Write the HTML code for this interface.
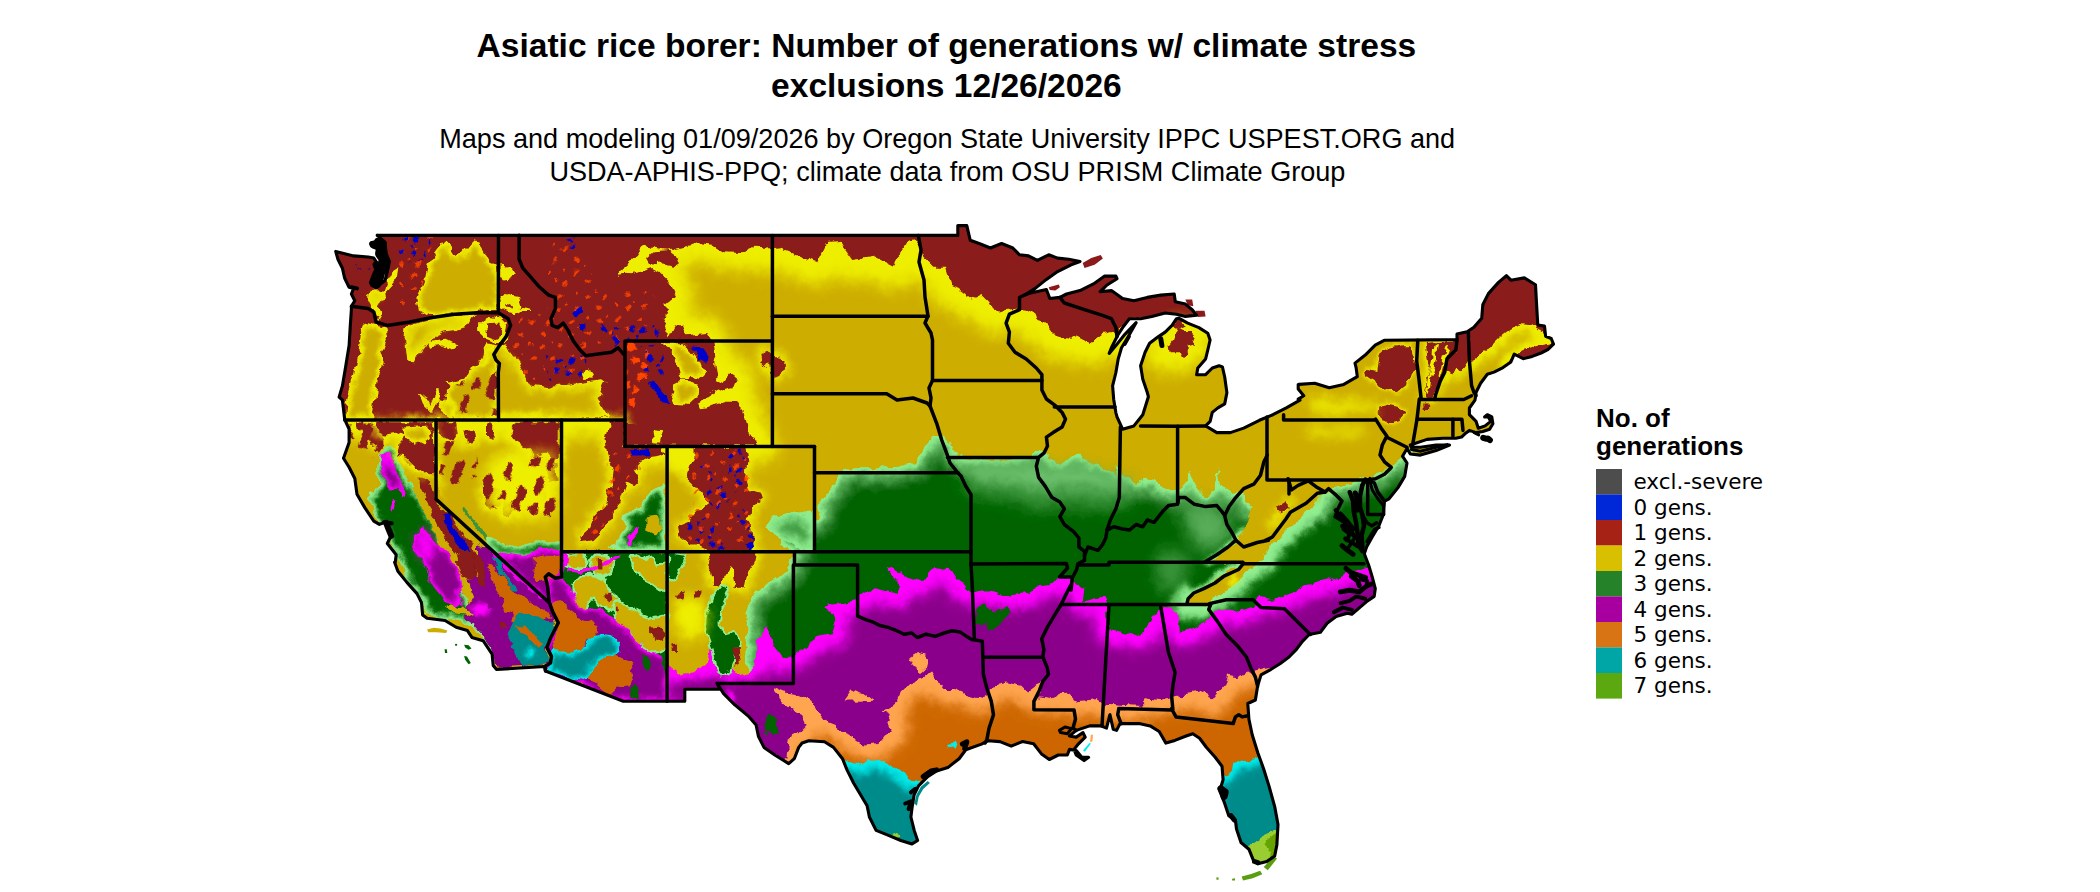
<!DOCTYPE html>
<html lang="en"><head><meta charset="utf-8"><title>Asiatic rice borer: Number of generations w/ climate stress exclusions</title>
<style>
html,body{margin:0;padding:0;background:#fff;}
body{width:2100px;height:892px;overflow:hidden;}
svg{display:block;}
.t1{font-family:"Liberation Sans",Arial,Helvetica,sans-serif;font-weight:700;font-size:33.56px;fill:#000;}
.t2{font-family:"Liberation Sans",Arial,Helvetica,sans-serif;font-size:27.09px;fill:#000;}
.lt{font-family:"Liberation Sans",Arial,Helvetica,sans-serif;font-weight:700;font-size:26px;fill:#000;}
.li{font-family:"DejaVu Sans","Liberation Sans",sans-serif;font-size:21.5px;fill:#000;}
.b{fill:none;stroke:#000;stroke-width:3.5;stroke-linejoin:round;stroke-linecap:round;}
</style></head><body>
<svg width="2100" height="892" viewBox="0 0 2100 892">
<rect width="2100" height="892" fill="#fff"/>
<defs><clipPath id="us"><polygon points="377.2,235.4 957.8,235.4 957.8,225.6 966.8,225.6 970.2,240.2 979.1,243.5 990.4,248.0 1001.6,243.5 1012.8,248.0 1019.5,254.8 1028.5,255.9 1037.4,260.4 1048.7,254.8 1057.6,258.1 1068.8,259.2 1080.0,261.5 1071.1,264.8 1057.6,271.6 1046.4,279.4 1035.2,288.4 1026.2,294.0 1019.5,297.4 1030.7,292.9 1046.4,289.5 1049.8,298.5 1059.9,297.4 1066.6,294.0 1080.0,290.6 1093.5,283.9 1104.7,276.1 1115.9,276.1 1117.0,278.7 1107.0,285.0 1100.2,291.7 1111.4,290.6 1122.6,298.5 1133.9,300.7 1147.3,297.4 1160.8,295.1 1174.2,294.0 1175.3,301.8 1185.4,304.1 1192.2,309.7 1196.6,315.3 1185.4,316.4 1176.5,314.2 1165.2,313.0 1151.8,316.4 1140.6,318.7 1129.4,318.7 1122.6,327.6 1118.2,334.3 1111.4,347.8 1109.2,353.4 1115.9,345.6 1124.9,334.3 1136.1,322.7 1128.3,336.6 1121.5,347.8 1118.2,359.0 1115.9,372.5 1112.6,385.9 1113.7,399.4 1115.9,412.8 1117.0,416.9 1122.6,429.2 1133.9,425.9 1142.8,414.7 1148.4,396.7 1147.3,392.6 1142.8,379.2 1140.6,365.7 1145.1,352.3 1149.6,343.3 1158.5,336.6 1165.2,332.1 1172.0,325.4 1176.5,318.7 1178.7,318.2 1187.7,323.1 1198.9,327.6 1207.8,333.2 1210.1,340.0 1207.8,350.0 1205.6,359.0 1197.8,368.0 1196.6,374.7 1205.6,374.7 1212.3,368.0 1219.1,365.7 1222.4,366.9 1224.7,377.0 1226.9,392.6 1224.7,403.9 1217.9,407.9 1212.3,412.4 1210.1,421.4 1205.6,425.9 1216.8,432.6 1230.3,432.6 1243.7,428.1 1259.4,420.3 1272.9,414.7 1286.3,407.9 1300.0,400.1 1298.2,399.1 1303.8,395.7 1298.2,389.0 1298.2,384.5 1299.0,384.4 1314.7,383.3 1329.2,387.8 1343.8,384.4 1357.3,376.6 1356.1,367.6 1355.0,363.1 1366.2,354.2 1375.2,345.2 1384.2,340.3 1457.0,339.6 1457.0,334.0 1467.1,331.7 1473.9,327.3 1481.7,318.3 1482.8,304.8 1488.4,293.6 1498.5,282.4 1506.4,275.7 1510.9,280.2 1524.3,277.9 1535.5,284.7 1536.6,304.8 1537.8,325.0 1544.5,326.1 1545.6,336.2 1551.2,338.5 1553.5,344.1 1547.8,349.7 1541.1,353.0 1532.2,356.4 1523.2,358.7 1514.2,354.2 1510.9,362.0 1503.0,367.6 1494.0,372.1 1487.3,374.3 1480.6,383.3 1476.1,392.3 1475.0,400.1 1469.4,408.0 1469.4,414.7 1476.1,421.4 1478.3,428.2 1485.1,425.9 1490.7,421.4 1488.4,417.0 1484.6,417.0 1487.3,414.7 1491.8,417.0 1492.9,423.7 1489.6,429.3 1482.8,431.5 1476.1,432.6 1469.4,430.4 1464.9,433.8 1461.5,437.1 1455.9,438.3 1442.8,438.3 1427.1,439.4 1410.3,445.0 1411.4,447.3 1420.4,447.3 1436.1,445.0 1449.6,445.0 1436.1,450.6 1420.4,455.1 1410.3,454.0 1407.0,448.4 1402.5,456.2 1407.0,463.0 1404.7,476.4 1398.0,487.6 1389.0,498.8 1384.5,501.1 1383.4,514.5 1378.9,525.7 1372.2,537.0 1366.6,547.0 1364.3,553.8 1368.6,565.0 1372.0,576.2 1375.3,588.6 1374.2,596.4 1367.5,600.9 1359.6,607.6 1351.8,614.3 1347.3,613.2 1336.1,616.6 1327.1,623.3 1320.4,632.3 1309.2,634.5 1302.5,641.3 1295.7,650.2 1289.0,657.0 1280.0,663.7 1271.1,669.3 1261.0,674.9 1257.6,686.1 1255.4,700.0 1247.8,703.5 1248.9,719.1 1252.2,734.8 1257.8,752.8 1263.5,768.5 1269.1,786.4 1274.7,806.6 1278.0,824.5 1276.9,844.7 1274.7,855.9 1266.8,861.5 1257.8,863.8 1253.4,860.4 1248.9,849.2 1241.0,842.5 1236.5,829.0 1235.4,820.0 1228.7,815.6 1224.2,802.1 1219.7,790.9 1223.1,779.7 1222.0,766.2 1215.2,757.3 1206.3,747.2 1199.6,738.2 1192.8,733.7 1186.1,736.0 1174.9,740.4 1165.9,743.1 1159.2,731.5 1150.2,725.9 1139.0,723.6 1125.6,723.6 1120.0,723.6 1116.6,730.4 1113.2,729.2 1109.9,714.7 1106.5,728.1 1100.9,725.9 1089.7,725.9 1076.2,730.4 1069.5,736.0 1076.2,737.1 1083.0,732.6 1085.2,737.1 1078.5,743.8 1074.0,749.4 1076.2,755.0 1084.1,760.6 1088.6,757.3 1081.8,757.3 1076.2,750.5 1069.5,749.4 1067.3,755.0 1058.3,755.0 1049.3,759.5 1041.5,753.9 1033.6,743.8 1022.4,741.6 1011.2,746.1 1000.0,741.6 988.2,740.7 981.5,744.1 965.8,749.7 959.1,758.7 947.8,767.6 936.6,771.0 927.7,776.6 918.7,785.6 914.2,794.5 912.0,808.0 910.9,817.0 914.2,830.4 917.6,840.5 912.0,843.9 900.8,840.5 887.3,834.9 876.1,830.4 869.4,817.0 867.1,805.7 860.4,794.5 853.7,783.3 847.0,769.9 842.5,758.7 833.5,747.4 824.5,741.8 808.8,740.7 802.1,743.0 798.7,747.4 794.3,758.7 788.7,763.6 775.2,755.3 764.0,747.4 758.4,736.2 756.1,725.0 748.3,716.1 734.8,704.8 723.6,693.6 716.9,683.1 720.0,689.3 684.8,689.3 684.8,701.2 667.1,701.2 623.3,701.3 545.5,671.0 544.8,666.5 496.6,669.4 493.2,665.4 492.1,654.2 483.1,640.7 471.9,637.4 467.4,630.6 456.2,627.3 445.0,620.5 427.1,618.3 422.6,614.9 421.5,602.6 417.0,593.6 406.9,582.4 397.9,571.2 394.6,562.2 395.1,563.7 396.2,554.7 387.3,543.5 391.7,534.5 385.0,522.2 379.4,524.4 373.8,521.1 364.8,507.6 357.0,494.2 354.8,478.5 349.1,467.3 343.5,458.3 349.1,442.6 349.1,429.1 344.7,419.5 342.4,400.0 339.1,397.1 342.4,385.9 345.8,365.7 349.1,345.6 350.3,325.4 351.4,309.7 351.4,306.3 354.8,300.7 351.4,294.0 353.6,288.4 349.1,287.3 344.7,278.3 342.4,268.2 337.9,259.2 335.7,251.4 353.6,255.9 368.2,257.0 373.8,258.1 378.3,264.8 373.8,273.8 370.4,282.8 376.1,287.3 385.0,280.5 387.3,271.6 389.5,261.5 386.1,253.6 385.0,242.4 377.2,235.2"/></clipPath>
<filter id="bl4" filterUnits="userSpaceOnUse" x="300" y="200" width="1300" height="692"><feGaussianBlur stdDeviation="4"/></filter>
<filter id="bl6" filterUnits="userSpaceOnUse" x="300" y="200" width="1300" height="692"><feGaussianBlur stdDeviation="6"/></filter>
<filter id="bl2" filterUnits="userSpaceOnUse" x="300" y="200" width="1300" height="692"><feGaussianBlur stdDeviation="2"/></filter>
<filter id="bl8" filterUnits="userSpaceOnUse" x="300" y="200" width="1300" height="692"><feGaussianBlur stdDeviation="8"/></filter>
<filter id="rough" filterUnits="userSpaceOnUse" x="300" y="200" width="1300" height="692"><feTurbulence type="fractalNoise" baseFrequency="0.09" numOctaves="3" seed="7" result="n"/><feDisplacementMap in="SourceGraphic" in2="n" scale="9" xChannelSelector="R" yChannelSelector="G"/></filter>
<pattern id="pOR" width="31" height="27" patternUnits="userSpaceOnUse" patternTransform="rotate(-25)"><path fill="#ff4500" fill-opacity="0.85" d="M2 3l4-1 2 2-2 2-4 0zM18 10l5-1 1 2-3 2-4-1zM7 19l3-2 3 1-1 3-4 0zM25 22l3 0 0 2-3 1zM13 1l2 0 0 2-2 0z"/></pattern>
<pattern id="pOR2" width="22" height="26" patternUnits="userSpaceOnUse" patternTransform="rotate(20)"><path fill="#ff4500" d="M1 2l9-1 5 4-4 5-8 1zM12 14l7-2 2 6-6 4-5-3zM2 16l5 1 0 5-4 1z"/></pattern>
<pattern id="pBL" width="19" height="17" patternUnits="userSpaceOnUse" patternTransform="rotate(-35)"><path fill="#0000cd" d="M2 2l4-1 2 2-1 3-4 0zM11 9l5-1 1 3-3 2-3-1zM5 12l2 0 1 2-3 1z"/></pattern>
<pattern id="pYL" width="30" height="26" patternUnits="userSpaceOnUse" patternTransform="rotate(-30)"><path fill="#eeee00" d="M2 2l8-1 4 3-3 4-8 1zM16 12l8-1 3 4-6 3-6-2zM6 18l4-1 2 4-5 2z"/></pattern>
<pattern id="pRD" width="47" height="33" patternUnits="userSpaceOnUse" patternTransform="rotate(-68)"><path fill="#8b1a1a" d="M2 4l20-2 7 4-5 5-21 2zM27 19l14-2 4 4-6 5-13-1zM6 22l10-1 2 5-11 3z"/></pattern>
</defs>
<g clip-path="url(#us)">
<rect x="300" y="200" width="1300" height="692" fill="#cdad00"/>
<g filter="url(#rough)">
<rect x="250" y="150" width="1400" height="792" fill="#cdad00"/>
<polygon fill="#90ee90" points="745.4,719.4 747.6,672.3 745.4,652.1 747.6,629.7 745.4,614.0 749.9,598.3 761.1,587.1 774.5,580.4 785.7,571.4 794.7,553.5 780.0,545.6 780.0,516.0 793.5,514.2 809.1,509.7 813.6,517.5 817.0,518.7 821.5,498.5 831.6,487.3 837.2,474.9 847.3,468.2 892.1,468.2 914.5,462.6 923.5,449.1 934.7,436.8 943.7,435.7 952.6,446.9 957.1,455.9 966.1,459.2 1004.2,460.4 1026.6,458.1 1035.6,451.4 1044.6,450.3 1049.1,460.4 1060.3,464.8 1071.5,455.9 1078.2,453.6 1087.2,462.6 1105.1,467.1 1116.3,476.1 1113.5,467.3 1124.7,476.2 1138.1,483.0 1147.1,476.2 1156.1,483.0 1167.3,489.7 1177.4,491.9 1185.2,485.2 1189.7,471.7 1194.2,483.0 1205.4,496.4 1214.3,487.4 1216.6,469.5 1221.1,485.2 1230.0,494.2 1239.0,489.7 1243.5,496.4 1252.5,507.6 1279.4,512.1 1315.2,505.4 1326.5,494.2 1333.2,487.4 1346.6,483.0 1369.1,477.4 1382.5,471.7 1391.5,465.0 1400.4,458.3 1407.2,449.3 1411.7,448.2 1418.4,467.3 1481.2,467.3 1500.0,892.0 745.0,892.0"/>
<g filter="url(#bl2)">
<polygon fill="#6cc06c" points="750.4,719.5 750.0,887.0 1494.8,887.0 1476.4,472.3 1418.4,472.3 1417.9,472.2 1417.4,472.2 1417.0,472.1 1416.5,471.9 1416.1,471.7 1415.7,471.5 1415.3,471.2 1414.9,470.9 1414.6,470.6 1414.3,470.2 1414.1,469.8 1413.8,469.4 1413.7,468.9 1408.9,455.4 1404.4,461.3 1404.1,461.7 1403.8,462.0 1403.4,462.3 1385.5,475.7 1385.2,476.0 1384.8,476.2 1384.4,476.4 1371.0,482.0 1370.6,482.1 1370.3,482.2 1348.0,487.8 1335.9,491.8 1330.0,497.7 1318.8,508.9 1318.4,509.3 1318.0,509.5 1317.6,509.8 1317.1,510.0 1316.7,510.2 1316.2,510.3 1280.3,517.0 1279.9,517.1 1279.4,517.1 1279.0,517.1 1278.6,517.0 1251.6,512.6 1251.1,512.4 1250.6,512.3 1250.2,512.1 1249.7,511.8 1249.3,511.5 1248.9,511.1 1248.6,510.7 1239.6,499.5 1239.3,499.2 1237.3,496.1 1232.3,498.6 1231.8,498.8 1231.4,499.0 1230.9,499.1 1230.4,499.2 1230.0,499.2 1229.5,499.1 1229.0,499.1 1228.5,498.9 1228.1,498.8 1227.7,498.6 1227.2,498.3 1226.9,498.0 1226.5,497.7 1218.7,489.9 1218.5,490.3 1218.2,490.6 1217.9,491.0 1208.9,499.9 1208.6,500.3 1208.2,500.6 1207.7,500.8 1207.3,501.0 1206.8,501.2 1206.4,501.3 1205.9,501.4 1205.4,501.4 1204.9,501.4 1204.4,501.3 1204.0,501.2 1203.5,501.0 1203.0,500.8 1202.6,500.6 1202.2,500.3 1201.9,500.0 1201.5,499.6 1190.3,486.2 1190.2,486.0 1189.9,486.8 1189.8,487.2 1189.6,487.6 1189.4,488.0 1189.1,488.4 1188.8,488.7 1188.5,489.0 1180.6,495.7 1180.2,496.0 1179.8,496.3 1179.3,496.5 1178.8,496.7 1178.3,496.8 1177.8,496.9 1177.3,496.9 1176.8,496.9 1176.3,496.8 1166.2,494.6 1165.7,494.4 1165.2,494.2 1164.7,494.0 1153.5,487.2 1153.1,487.0 1147.1,482.5 1141.1,487.0 1140.7,487.2 1140.3,487.5 1139.8,487.7 1139.3,487.8 1138.8,487.9 1138.3,488.0 1137.8,488.0 1137.3,487.9 1136.8,487.8 1136.3,487.6 1135.9,487.4 1122.4,480.7 1122.0,480.4 1121.5,480.1 1120.3,479.1 1120.2,479.2 1119.9,479.5 1119.6,479.9 1119.2,480.2 1118.8,480.4 1118.3,480.6 1117.8,480.8 1117.4,480.9 1116.9,481.0 1116.4,481.1 1115.9,481.0 1115.4,481.0 1114.9,480.9 1114.5,480.7 1114.0,480.5 1113.6,480.2 1113.2,480.0 1102.8,471.7 1086.0,467.5 1085.5,467.3 1085.1,467.2 1084.7,467.0 1084.3,466.7 1084.0,466.4 1083.6,466.1 1076.9,459.4 1073.9,460.3 1063.4,468.7 1063.0,469.0 1062.6,469.3 1062.2,469.5 1061.7,469.6 1061.2,469.7 1060.8,469.8 1060.3,469.8 1059.8,469.8 1059.3,469.8 1058.9,469.6 1058.4,469.5 1047.2,465.0 1046.8,464.8 1046.3,464.6 1046.0,464.3 1045.6,464.0 1045.3,463.6 1045.0,463.2 1044.7,462.8 1044.5,462.4 1041.5,455.7 1037.5,456.2 1029.6,462.1 1029.3,462.4 1028.9,462.6 1028.5,462.8 1028.0,462.9 1027.6,463.0 1027.1,463.1 1004.7,465.3 1004.1,465.4 966.0,464.2 965.4,464.2 964.9,464.1 964.3,463.9 955.4,460.6 954.9,460.4 954.5,460.1 954.1,459.9 953.8,459.6 953.5,459.3 953.2,458.9 952.9,458.5 952.7,458.1 948.4,449.6 941.5,441.0 937.2,441.5 927.4,452.2 918.7,465.4 918.4,465.7 918.1,466.1 917.8,466.4 917.4,466.7 917.0,466.9 916.6,467.1 916.2,467.3 915.7,467.5 893.3,473.1 892.7,473.2 892.1,473.2 848.8,473.2 841.1,478.3 836.1,489.3 835.9,489.8 835.6,490.2 835.3,490.6 826.1,500.8 821.9,519.7 821.7,520.2 821.6,520.7 821.3,521.1 821.1,521.5 820.8,521.9 820.4,522.3 820.1,522.6 819.7,522.9 819.2,523.1 818.8,523.3 818.3,523.5 817.8,523.6 817.4,523.6 816.9,523.7 816.4,523.6 815.9,523.5 815.4,523.4 812.1,522.3 811.6,522.1 811.1,521.8 810.7,521.6 810.3,521.2 809.9,520.9 809.6,520.5 809.3,520.0 806.8,515.6 794.8,519.0 794.1,519.1 785.0,520.3 785.0,542.6 797.1,549.0 797.5,549.3 797.9,549.6 798.2,549.9 798.6,550.3 798.8,550.6 799.1,551.1 799.3,551.5 799.5,551.9 799.6,552.4 799.7,552.9 799.7,553.4 799.7,553.8 799.6,554.3 799.5,554.8 799.4,555.2 799.2,555.7 790.2,573.6 789.9,574.1 789.6,574.5 789.3,574.9 788.9,575.3 777.7,584.3 777.2,584.6 776.8,584.8 764.0,591.2 754.3,600.9 750.5,614.3 752.6,629.0 752.6,629.6 752.6,630.2 750.4,652.1 752.6,671.7 752.6,672.1 752.6,672.5 750.4,719.5"/>
</g>
<g filter="url(#bl4)">
<polygon fill="#3a943a" points="754.4,719.6 754.0,883.0 1490.6,883.0 1472.6,476.3 1418.4,476.3 1417.5,476.2 1416.7,476.1 1415.9,475.9 1415.1,475.6 1414.3,475.3 1413.5,474.8 1412.8,474.4 1412.2,473.8 1411.6,473.2 1411.1,472.5 1410.6,471.8 1410.2,471.0 1409.9,470.3 1407.6,463.8 1407.1,464.4 1406.5,465.0 1405.8,465.5 1387.9,478.9 1387.3,479.4 1386.6,479.7 1386.0,480.1 1372.5,485.7 1371.9,485.9 1371.2,486.1 1349.2,491.6 1338.0,495.3 1332.8,500.5 1321.6,511.7 1320.9,512.3 1320.2,512.9 1319.4,513.3 1318.6,513.7 1317.8,514.0 1316.9,514.2 1281.0,521.0 1280.3,521.1 1279.5,521.1 1278.7,521.1 1277.9,521.0 1251.0,516.5 1250.1,516.3 1249.2,516.0 1248.3,515.6 1247.5,515.1 1246.8,514.6 1246.1,513.9 1245.4,513.2 1236.5,502.0 1236.0,501.4 1235.9,501.3 1234.1,502.2 1233.3,502.6 1232.5,502.8 1231.6,503.0 1230.8,503.1 1229.9,503.2 1229.0,503.1 1228.2,503.0 1227.3,502.8 1226.5,502.5 1225.8,502.1 1225.0,501.6 1224.3,501.1 1223.7,500.5 1218.8,495.7 1211.7,502.8 1211.1,503.4 1210.4,503.9 1209.6,504.3 1208.8,504.7 1208.0,505.0 1207.2,505.2 1206.3,505.4 1205.4,505.4 1204.5,505.4 1203.7,505.2 1202.8,505.0 1202.0,504.7 1201.2,504.4 1200.4,503.9 1199.7,503.4 1199.1,502.8 1198.5,502.2 1190.5,492.6 1183.2,498.8 1182.5,499.3 1181.7,499.8 1180.9,500.2 1180.0,500.5 1179.1,500.8 1178.2,500.9 1177.2,500.9 1176.3,500.9 1175.4,500.7 1165.3,498.5 1164.4,498.2 1163.5,497.9 1162.6,497.4 1151.4,490.7 1150.7,490.2 1147.1,487.5 1143.5,490.2 1142.8,490.7 1142.0,491.1 1141.1,491.4 1140.3,491.7 1139.4,491.9 1138.5,492.0 1137.6,491.9 1136.7,491.8 1135.8,491.7 1134.9,491.4 1134.1,491.0 1120.6,484.3 1120.3,484.1 1119.9,484.3 1119.1,484.6 1118.2,484.9 1117.3,485.0 1116.5,485.1 1115.6,485.0 1114.7,484.9 1113.8,484.7 1113.0,484.4 1112.2,484.0 1111.4,483.6 1110.7,483.1 1101.0,475.3 1085.0,471.3 1084.2,471.1 1083.5,470.8 1082.7,470.4 1082.1,470.0 1081.4,469.5 1080.8,469.0 1075.8,463.9 1065.9,471.9 1065.2,472.4 1064.4,472.8 1063.7,473.2 1062.9,473.5 1062.0,473.7 1061.2,473.8 1060.3,473.8 1059.4,473.8 1058.6,473.7 1057.7,473.5 1056.9,473.2 1045.7,468.7 1044.9,468.4 1044.2,467.9 1043.5,467.4 1042.8,466.8 1042.2,466.2 1041.7,465.5 1041.2,464.8 1040.8,464.0 1039.1,460.0 1032.0,465.3 1031.4,465.8 1030.7,466.2 1029.9,466.5 1029.1,466.8 1028.3,467.0 1027.5,467.1 1005.1,469.3 1004.0,469.4 965.8,468.2 964.8,468.2 963.9,468.0 962.9,467.7 954.0,464.3 953.2,464.0 952.5,463.6 951.8,463.1 951.1,462.6 950.5,462.0 950.0,461.3 949.5,460.6 949.1,459.9 945.0,451.8 939.8,445.3 939.1,445.3 930.6,454.7 922.0,467.6 921.5,468.3 921.0,468.9 920.4,469.4 919.7,470.0 919.0,470.4 918.3,470.8 917.5,471.1 916.7,471.3 894.3,476.9 893.2,477.1 892.1,477.2 850.0,477.2 844.3,481.0 839.8,491.0 839.3,491.8 838.8,492.6 838.3,493.3 829.8,502.7 825.8,520.6 825.5,521.5 825.2,522.3 824.8,523.1 824.4,523.8 823.8,524.5 823.2,525.2 822.5,525.7 821.8,526.3 821.0,526.7 820.2,527.1 819.4,527.3 818.5,527.5 817.6,527.6 816.8,527.7 815.9,527.6 815.0,527.4 814.1,527.2 810.8,526.1 809.9,525.7 809.1,525.3 808.3,524.8 807.6,524.2 806.9,523.5 806.3,522.8 805.8,522.0 804.8,520.3 795.9,522.8 794.6,523.1 789.0,523.8 789.0,540.2 799.0,545.5 799.7,546.0 800.4,546.5 801.0,547.1 801.6,547.7 802.2,548.4 802.6,549.1 803.0,549.9 803.3,550.7 803.5,551.6 803.6,552.4 803.7,553.3 803.7,554.2 803.6,555.0 803.4,555.9 803.1,556.7 802.8,557.5 793.8,575.4 793.3,576.3 792.7,577.0 792.1,577.8 791.4,578.4 780.2,587.4 779.4,587.9 778.6,588.4 766.4,594.5 757.9,603.0 754.6,614.6 756.5,628.4 756.6,629.5 756.6,630.6 754.4,652.1 756.6,671.3 756.6,672.0 756.6,672.7 754.4,719.6"/>
<polygon fill="#006400" points="761.4,719.8 761.0,876.0 1483.3,876.0 1465.9,483.3 1418.4,483.3 1416.9,483.2 1415.4,483.0 1413.9,482.6 1412.5,482.1 1411.1,481.5 1409.8,480.7 1408.5,479.9 1407.4,478.9 1406.3,477.8 1405.4,476.6 1404.6,475.3 1404.5,475.2 1392.1,484.5 1391.0,485.3 1389.9,486.0 1388.7,486.5 1375.2,492.1 1374.1,492.5 1372.9,492.9 1351.1,498.3 1341.8,501.4 1337.8,505.5 1326.6,516.7 1325.4,517.8 1324.1,518.7 1322.7,519.5 1321.3,520.2 1319.8,520.7 1318.2,521.1 1282.3,527.8 1280.9,528.0 1279.5,528.1 1278.1,528.1 1276.7,527.9 1249.8,523.4 1248.2,523.0 1246.6,522.5 1245.1,521.8 1243.7,521.0 1242.3,520.0 1241.1,518.9 1240.0,517.6 1233.7,509.7 1232.8,509.9 1231.3,510.1 1229.8,510.2 1228.2,510.1 1226.7,509.8 1225.2,509.4 1223.8,508.9 1222.4,508.2 1221.1,507.4 1219.9,506.5 1218.8,505.6 1216.7,507.7 1215.5,508.8 1214.3,509.7 1212.9,510.5 1211.5,511.2 1210.1,511.7 1208.5,512.1 1207.0,512.3 1205.4,512.4 1203.9,512.3 1202.3,512.1 1200.8,511.7 1199.3,511.2 1197.9,510.6 1196.6,509.8 1195.3,508.8 1194.1,507.8 1193.1,506.7 1189.6,502.5 1187.8,504.1 1186.5,505.1 1185.1,505.9 1183.6,506.7 1182.0,507.2 1180.4,507.6 1178.8,507.9 1177.2,507.9 1175.5,507.8 1173.9,507.5 1163.8,505.3 1162.1,504.8 1160.5,504.2 1159.0,503.4 1147.8,496.7 1147.1,496.2 1146.4,496.7 1145.0,497.4 1143.5,498.0 1141.9,498.5 1140.4,498.8 1138.8,498.9 1137.1,498.9 1135.5,498.8 1134.0,498.4 1132.4,497.9 1131.0,497.3 1119.8,491.7 1119.7,491.7 1118.1,492.0 1116.6,492.1 1115.0,492.0 1113.4,491.8 1111.9,491.4 1110.4,490.9 1109.0,490.3 1107.6,489.5 1106.3,488.5 1097.8,481.8 1083.3,478.1 1081.9,477.7 1080.6,477.2 1079.3,476.5 1078.1,475.8 1076.9,474.9 1075.9,473.9 1075.3,473.3 1070.3,477.3 1069.0,478.2 1067.7,479.0 1066.3,479.7 1064.9,480.2 1063.4,480.5 1061.9,480.8 1060.3,480.8 1058.8,480.8 1057.3,480.6 1055.8,480.2 1054.3,479.7 1043.1,475.2 1041.7,474.6 1040.4,473.8 1039.1,472.9 1038.0,471.9 1036.9,470.8 1036.7,470.5 1036.2,470.9 1035.0,471.7 1033.8,472.4 1032.4,473.0 1031.1,473.5 1029.7,473.8 1028.2,474.0 1005.8,476.3 1003.7,476.4 965.6,475.2 963.9,475.1 962.2,474.7 960.5,474.2 951.5,470.9 950.1,470.3 948.8,469.5 947.6,468.7 946.4,467.8 945.4,466.7 944.4,465.6 943.6,464.3 942.8,463.0 939.2,455.7 936.1,459.0 927.8,471.5 927.0,472.7 926.0,473.8 924.9,474.8 923.7,475.7 922.5,476.5 921.2,477.1 919.8,477.7 918.4,478.1 896.0,483.7 894.1,484.1 892.1,484.2 852.1,484.2 849.9,485.7 846.1,493.9 845.4,495.3 844.5,496.7 843.5,498.0 836.2,506.1 832.6,522.1 832.2,523.6 831.6,525.1 830.9,526.5 830.1,527.9 829.1,529.1 828.0,530.2 826.8,531.3 825.6,532.2 824.2,532.9 822.7,533.6 821.2,534.1 819.7,534.4 818.1,534.6 816.6,534.6 815.0,534.5 813.5,534.3 811.9,533.8 808.6,532.7 807.0,532.1 805.5,531.3 804.1,530.4 802.9,529.4 801.9,528.4 797.8,529.6 796.0,529.9 796.0,536.0 802.3,539.4 803.6,540.1 804.8,541.1 806.0,542.1 807.0,543.2 807.9,544.5 808.7,545.8 809.4,547.2 810.0,548.6 810.4,550.1 810.6,551.6 810.7,553.2 810.7,554.7 810.5,556.2 810.1,557.7 809.6,559.2 809.0,560.6 800.1,578.5 799.2,580.0 798.2,581.4 797.0,582.7 795.7,583.9 784.5,592.9 783.2,593.8 781.7,594.7 770.6,600.2 764.1,606.7 761.7,615.1 763.5,627.4 763.6,629.3 763.5,631.3 761.5,652.0 763.5,670.5 763.6,671.8 763.6,673.0 761.4,719.8"/>
</g>
<g filter="url(#bl8)">
<polygon fill="#3a943a" points="959.4,476.1 981.8,471.6 1015.4,471.6 1037.8,469.3 1060.3,476.1 1082.7,471.6 1105.1,478.3 1130.0,485.0 1130.0,505.2 1105.1,509.7 1082.7,507.4 1060.3,505.2 1037.8,509.7 1015.4,500.7 993.0,498.5 970.6,494.0"/>
</g>
<g filter="url(#bl6)">
<polygon fill="#6cc06c" points="963.9,468.2 981.8,464.8 1015.4,466.0 1033.4,462.6 1049.1,468.2 1067.0,467.1 1080.4,463.7 1098.4,470.4 1116.3,478.3 1130.0,480.5 1130.0,491.7 1105.1,489.5 1082.7,487.3 1060.3,487.3 1037.8,489.5 1015.4,482.8 993.0,481.7 970.6,479.4"/>
</g>
<g filter="url(#bl8)">
<polygon fill="#58ad58" points="1178.5,507.6 1189.7,503.1 1205.4,507.6 1221.1,507.6 1231.2,518.8 1232.3,534.5 1223.3,543.5 1212.1,550.2 1200.9,550.2 1191.9,539.0 1187.4,525.6 1180.7,518.8"/>
<polygon fill="#3a943a" points="1156.1,557.0 1167.3,548.0 1189.7,557.0 1185.2,579.4 1171.7,592.8 1158.3,588.3"/>
</g>
<g filter="url(#bl4)">
<polyline fill="none" stroke="#90ee90" stroke-width="26" stroke-linejoin="round" stroke-linecap="round" points="1188.1,598.7 1185.9,605.4 1199.3,605.8 1210.5,600.9 1219.5,595.3 1228.5,588.6 1236.8,579.4 1248.0,570.4 1261.4,561.4 1268.2,550.2 1277.1,539.0 1288.3,527.8 1299.6,518.8 1313.0,505.4"/>
</g>
<g filter="url(#bl2)">
<polyline fill="none" stroke="#90ee90" stroke-width="8" stroke-linejoin="round" stroke-linecap="round" points="1243.5,532.3 1234.5,543.5 1225.6,550.2 1214.3,559.2 1207.6,561.9"/>
<polyline fill="none" stroke="#90ee90" stroke-width="8" stroke-linejoin="round" stroke-linecap="round" points="1243.5,563.2 1234.5,568.2 1221.1,577.1 1207.6,586.1 1194.2,595.1"/>
</g>
<polygon fill="#cdad00" points="1257.0,485.2 1252.5,507.6 1248.0,521.1 1243.5,532.3 1234.5,543.5 1225.6,550.2 1214.3,559.2 1207.6,561.9 1243.5,563.2 1234.5,568.2 1221.1,577.1 1207.6,586.1 1194.2,595.1 1188.1,598.7 1185.9,605.4 1199.3,605.8 1210.5,600.9 1219.5,595.3 1228.5,588.6 1236.8,579.4 1248.0,570.4 1261.4,561.4 1268.2,550.2 1277.1,539.0 1288.3,527.8 1299.6,518.8 1313.0,505.4 1324.2,485.2"/>
<g filter="url(#bl4)">
<polygon fill="#eeee00" points="1265.9,525.6 1279.4,507.6 1290.6,496.4 1295.1,500.9 1283.9,516.6 1272.6,530.0"/>
</g>
<polygon fill="#8b1a1a" points="1276.0,507.6 1286.1,500.9 1290.6,505.4 1281.6,513.2"/>
<g filter="url(#bl2)">
<polygon fill="#eeee00" points="1224.0,583.0 1235.2,574.0 1239.7,577.4 1228.5,587.4"/>
</g>
<polygon fill="#ff00ff" points="667.0,892.0 667.0,680.0 669.1,665.6 680.4,674.5 696.1,672.3 707.3,661.1 711.7,638.7 716.2,665.6 725.2,643.1 731.9,665.6 738.7,674.5 747.6,672.3 755.5,665.6 756.6,640.9 767.8,625.2 774.5,645.4 783.5,658.8 794.7,654.3 801.4,649.9 810.4,643.1 819.4,636.4 832.8,634.2 835.1,625.2 830.6,611.7 823.9,607.3 837.3,602.8 855.2,599.4 864.2,593.8 875.4,588.2 886.6,591.6 897.8,593.8 900.1,584.8 886.6,566.9 893.4,569.1 909.1,578.1 920.3,582.6 929.2,571.4 936.0,568.0 949.4,570.3 958.4,580.4 965.1,589.3 974.1,591.6 990.0,591.6 1007.0,596.1 1029.4,592.7 1042.8,584.8 1056.3,580.4 1072.0,575.9 1076.5,584.8 1085.4,588.2 1083.2,601.7 1105.6,596.1 1107.8,605.0 1109.1,630.5 1120.4,632.8 1136.1,635.0 1147.3,630.5 1151.7,619.3 1160.7,608.1 1169.7,605.9 1178.7,614.8 1180.9,632.8 1187.6,630.5 1198.8,626.1 1210.0,619.3 1214.5,613.7 1225.7,608.1 1237.0,611.5 1250.4,608.1 1254.9,601.4 1259.4,596.9 1270.6,599.1 1281.8,596.9 1293.0,592.4 1304.2,585.7 1315.4,583.5 1326.6,580.1 1337.8,576.7 1349.1,572.2 1360.3,570.0 1371.5,565.5 1461.2,565.5 1450.0,892.0"/>
<g filter="url(#bl6)">
<polygon fill="#8b008b" points="681.0,688.5 681.0,878.0 1436.5,878.0 1446.7,579.5 1374.2,579.5 1365.5,583.0 1364.3,583.4 1363.0,583.7 1353.1,585.7 1343.0,589.7 1341.9,590.1 1330.7,593.5 1319.4,596.9 1318.2,597.2 1309.3,598.9 1300.2,604.4 1299.2,605.0 1298.2,605.4 1287.0,609.9 1285.8,610.3 1284.5,610.6 1273.3,612.9 1272.0,613.1 1270.6,613.1 1269.2,613.1 1267.8,612.9 1264.5,612.2 1262.1,615.9 1261.3,616.9 1260.4,617.9 1259.5,618.8 1258.5,619.6 1257.4,620.3 1256.2,620.8 1255.0,621.3 1253.8,621.7 1240.3,625.1 1238.9,625.3 1237.4,625.5 1235.9,625.4 1234.4,625.2 1232.9,624.9 1227.0,623.1 1223.5,624.9 1221.0,628.1 1220.2,629.0 1219.3,629.9 1218.3,630.6 1217.2,631.3 1206.0,638.1 1205.1,638.6 1204.0,639.1 1192.8,643.5 1192.1,643.8 1185.3,646.1 1184.0,646.4 1182.6,646.7 1181.3,646.8 1179.9,646.7 1178.5,646.6 1177.2,646.3 1175.9,645.9 1174.6,645.3 1173.4,644.6 1172.3,643.8 1171.3,642.9 1170.3,641.9 1169.5,640.9 1168.7,639.7 1168.1,638.5 1167.6,637.2 1167.2,635.9 1167.0,634.5 1165.7,624.3 1164.0,626.5 1160.3,635.7 1159.7,637.0 1159.0,638.2 1158.1,639.4 1157.2,640.4 1156.1,641.4 1155.0,642.2 1153.8,642.9 1152.5,643.5 1141.3,648.0 1139.9,648.5 1138.4,648.8 1137.0,649.0 1135.5,649.0 1134.1,648.9 1118.4,646.6 1117.6,646.5 1106.4,644.3 1105.0,643.9 1103.7,643.4 1102.4,642.8 1101.2,642.1 1100.1,641.2 1099.0,640.2 1098.1,639.1 1097.3,638.0 1096.6,636.7 1096.0,635.4 1095.6,634.1 1095.3,632.7 1095.2,631.3 1094.3,613.3 1086.6,615.2 1085.2,615.5 1083.8,615.6 1082.5,615.6 1081.1,615.5 1079.7,615.2 1078.4,614.8 1077.1,614.3 1075.9,613.6 1074.8,612.8 1073.7,611.9 1072.7,611.0 1071.8,609.9 1071.1,608.7 1070.5,607.5 1069.9,606.2 1069.6,604.9 1069.3,603.5 1069.2,602.1 1069.2,600.7 1069.4,599.4 1069.7,597.1 1069.2,596.8 1068.1,596.1 1067.1,595.2 1066.2,594.3 1065.3,593.3 1064.7,592.5 1060.4,593.7 1048.6,597.7 1036.4,604.8 1035.3,605.4 1034.0,605.9 1032.8,606.3 1031.4,606.5 1009.0,609.9 1007.6,610.0 1006.2,610.0 1004.8,609.9 1003.4,609.6 988.2,605.6 974.1,605.6 972.4,605.5 970.7,605.2 961.7,602.9 960.4,602.5 959.1,602.0 957.9,601.4 956.8,600.6 955.8,599.7 954.8,598.8 953.9,597.7 947.5,589.2 942.2,583.3 938.2,582.6 931.2,591.3 930.3,592.4 929.3,593.3 928.2,594.1 927.0,594.9 925.8,595.5 924.5,595.9 923.2,596.3 921.8,596.5 920.4,596.6 919.1,596.5 917.7,596.4 916.4,596.0 915.1,595.6 912.1,594.4 911.4,597.2 911.0,598.5 910.5,599.7 909.9,600.9 909.2,602.0 908.4,603.1 907.4,604.0 906.4,604.9 905.3,605.6 904.2,606.3 903.0,606.8 901.7,607.3 900.4,607.6 899.1,607.8 897.7,607.8 896.4,607.7 895.1,607.5 883.9,605.3 882.6,605.0 876.7,603.2 871.1,606.0 862.7,611.3 861.5,611.9 860.3,612.5 859.1,612.9 857.8,613.2 846.5,615.3 848.3,620.8 848.7,622.0 848.9,623.3 849.1,624.7 849.0,626.0 848.9,627.3 848.6,628.6 846.4,637.6 846.0,638.9 845.5,640.1 844.9,641.3 844.1,642.4 843.3,643.5 842.3,644.5 841.3,645.3 840.2,646.1 839.0,646.7 837.7,647.3 836.4,647.7 835.1,648.0 825.0,649.7 818.8,654.3 809.8,661.1 809.2,661.5 802.5,666.0 801.2,666.7 799.9,667.3 788.7,671.8 787.4,672.3 786.1,672.6 784.7,672.8 783.4,672.8 782.0,672.8 780.7,672.5 779.3,672.2 778.1,671.7 776.8,671.1 775.7,670.4 774.6,669.6 773.6,668.7 772.7,667.7 771.8,666.6 769.6,663.2 769.5,666.2 769.3,667.6 769.0,669.0 768.6,670.4 768.1,671.7 767.4,672.9 766.5,674.1 765.6,675.2 764.6,676.2 756.7,682.9 755.7,683.7 754.6,684.4 753.5,685.0 752.3,685.5 751.0,685.9 742.1,688.1 740.7,688.4 739.3,688.5 738.0,688.5 736.6,688.4 735.3,688.1 734.0,687.7 732.7,687.2 731.5,686.6 730.4,685.8 729.3,684.9 728.3,684.0 727.5,682.9 723.4,677.6 722.8,677.9 721.6,678.5 720.3,679.0 718.9,679.3 717.5,679.5 716.1,679.6 714.7,679.5 713.3,679.3 712.0,678.9 710.7,678.4 710.0,678.1 706.0,682.2 705.0,683.1 704.0,683.8 702.9,684.5 701.7,685.1 700.5,685.6 699.3,685.9 698.0,686.1 682.3,688.4 681.0,688.5"/>
</g>
<polygon fill="#006400" points="975.6,607.3 984.5,605.0 993.5,611.7 1007.0,607.3 1011.4,614.0 1002.5,620.7 995.7,629.7 989.0,629.7 984.5,623.0 975.6,625.2"/>
<polygon fill="#006400" points="765.6,717.1 770.0,712.6 774.5,717.1 776.8,726.1 779.0,732.8 772.3,735.1 765.6,732.8"/>
<polygon fill="#ffa54f" points="700.0,892.0 775.2,755.3 786.4,758.7 788.7,737.4 797.6,734.0 806.6,725.0 802.1,716.1 788.7,709.3 779.7,700.4 774.1,686.9 784.2,691.4 797.6,693.6 811.1,700.4 817.8,711.6 824.5,720.5 835.7,725.0 844.7,731.7 855.9,739.6 867.1,745.2 878.3,744.1 885.1,736.2 892.9,730.6 887.3,722.8 891.8,714.9 882.8,710.4 891.8,704.8 896.3,700.4 900.8,691.4 909.7,682.4 923.2,677.9 931.0,671.2 936.6,680.2 943.4,689.1 954.6,689.1 965.8,693.6 981.5,698.1 988.2,693.6 993.5,685.7 1007.0,682.4 1020.4,685.7 1027.1,692.5 1036.1,685.7 1042.8,683.5 1036.1,697.0 1051.8,699.2 1065.2,692.5 1074.2,701.4 1096.6,699.2 1103.4,703.7 1119.1,704.8 1139.2,705.9 1146.0,698.1 1159.4,700.3 1170.6,697.0 1186.3,694.7 1200.0,692.5 1205.6,690.0 1212.3,701.2 1219.0,692.2 1225.7,684.3 1228.0,675.4 1237.0,677.6 1248.2,673.1 1257.1,670.9 1270.6,667.5 1304.2,659.7 1400.0,892.0"/>
<g filter="url(#bl6)">
<polygon fill="#cd6600" points="725.4,877.0 1377.6,877.0 1295.2,677.2 1274.1,682.1 1260.8,685.4 1252.8,687.4 1242.5,691.6 1241.0,692.1 1239.5,692.4 1238.3,692.6 1238.0,693.0 1237.1,694.1 1230.7,701.6 1224.3,710.2 1223.4,711.3 1222.3,712.3 1221.2,713.3 1219.9,714.1 1218.6,714.8 1217.3,715.3 1215.9,715.7 1214.4,716.0 1213.0,716.1 1211.5,716.1 1210.1,716.0 1208.6,715.7 1207.2,715.3 1205.9,714.7 1204.6,714.0 1203.3,713.2 1202.2,712.3 1201.2,711.2 1200.2,710.1 1199.4,708.9 1198.8,707.9 1188.7,709.5 1188.4,709.6 1173.9,711.6 1163.7,714.7 1162.4,715.0 1161.0,715.2 1159.7,715.3 1158.3,715.3 1157.0,715.1 1151.8,714.3 1150.6,715.7 1149.6,716.8 1148.4,717.8 1147.2,718.7 1145.8,719.4 1144.4,720.0 1143.0,720.5 1141.5,720.8 1139.9,720.9 1138.4,720.9 1118.2,719.8 1118.0,719.8 1102.3,718.6 1100.8,718.4 1099.2,718.1 1097.8,717.6 1096.4,716.9 1095.0,716.2 1092.8,714.7 1075.7,716.4 1074.2,716.4 1072.8,716.4 1071.3,716.1 1069.9,715.8 1068.5,715.3 1067.2,714.7 1065.9,713.9 1064.7,713.0 1063.6,712.0 1062.3,710.7 1058.5,712.6 1057.1,713.2 1055.7,713.7 1054.2,714.0 1052.7,714.2 1051.2,714.2 1049.7,714.0 1034.0,711.8 1032.5,711.5 1031.1,711.1 1029.7,710.5 1028.4,709.8 1027.1,709.0 1026.0,708.0 1025.3,707.4 1023.9,707.1 1022.6,706.8 1021.2,706.3 1019.9,705.6 1018.7,704.9 1017.6,704.0 1016.5,703.1 1012.7,699.3 1007.0,697.8 1002.7,698.9 1000.7,702.0 999.8,703.2 998.8,704.3 997.7,705.2 996.5,706.1 989.8,710.6 988.6,711.3 987.3,712.0 985.9,712.5 984.5,712.8 983.1,713.0 981.6,713.1 980.2,713.1 978.8,712.9 977.4,712.5 961.7,708.1 960.2,707.6 951.7,704.1 943.4,704.1 941.8,704.1 940.3,703.8 938.8,703.4 937.4,702.9 936.0,702.2 934.7,701.4 933.5,700.4 932.4,699.3 931.4,698.1 927.1,692.4 917.8,695.5 913.1,700.3 909.7,707.1 908.9,708.5 908.0,709.8 906.9,711.0 906.4,711.5 906.6,712.7 906.8,714.1 906.8,715.5 906.7,717.0 906.4,718.4 906.0,719.8 905.5,721.1 905.1,721.9 905.1,721.9 905.9,723.1 906.6,724.5 907.1,725.8 907.5,727.2 907.8,728.7 907.9,730.2 907.9,731.6 907.7,733.1 907.4,734.5 906.9,735.9 906.4,737.3 905.6,738.6 904.8,739.8 903.8,740.9 902.8,741.9 901.6,742.8 895.3,747.4 889.7,753.8 888.7,754.9 887.7,755.8 886.5,756.7 885.3,757.4 884.0,758.0 882.6,758.5 881.2,758.8 879.8,759.0 868.6,760.1 867.2,760.2 865.8,760.1 864.4,760.0 863.0,759.6 861.7,759.2 860.4,758.6 849.2,753.0 847.3,751.9 836.1,744.0 835.7,743.7 828.3,738.2 819.0,734.5 818.4,734.2 818.2,734.6 817.2,735.6 808.2,744.6 807.0,745.7 805.7,746.6 804.4,747.4 802.9,748.0 802.6,748.1 801.3,760.2 801.1,761.7 800.7,763.1 800.2,764.5 799.6,765.8 798.9,767.0 798.0,768.2 797.0,769.3 795.9,770.3 794.7,771.1 793.5,771.9 792.1,772.5 790.8,773.0 789.3,773.4 787.9,773.6 786.4,773.7 785.0,773.6 783.5,773.4 782.5,773.1 725.4,877.0"/>
</g>
<polygon fill="#ffa54f" points="909.1,658.8 918.0,652.1 929.2,656.6 927.0,665.6 920.3,672.3 913.5,667.8"/>
<polygon fill="#ffa54f" points="845.2,700.3 855.2,690.2 866.5,694.7 873.2,700.3 859.7,701.4"/>
<polygon fill="#ffa54f" points="844.7,701.5 851.4,691.4 864.9,693.6 873.9,700.4 860.4,701.5"/>
<polygon fill="#00eeee" points="841.3,758.7 851.4,763.1 860.4,765.4 869.4,760.9 878.3,759.8 887.3,763.1 896.3,769.9 905.2,776.6 912.0,781.1 920.9,782.2 927.7,776.6 938.9,772.1 941.1,794.5 925.4,860.0 824.5,860.0"/>
<g filter="url(#bl4)">
<polygon fill="#008b8b" points="847.5,770.2 834.0,852.0 919.1,852.0 933.0,794.0 932.0,783.5 931.8,783.5 926.1,788.3 925.4,788.8 924.7,789.3 924.0,789.6 923.2,789.9 922.4,790.1 921.6,790.2 920.8,790.2 919.9,790.1 911.0,789.0 910.3,788.9 909.5,788.7 908.8,788.4 908.2,788.1 907.5,787.7 900.8,783.2 900.4,783.0 891.5,776.3 883.4,770.2 877.4,768.0 871.7,768.7 864.0,772.5 863.2,772.9 862.5,773.1 861.7,773.3 860.9,773.4 860.1,773.4 859.3,773.3 858.5,773.1 849.5,770.9 848.8,770.7 848.2,770.4 847.5,770.2"/>
</g>
<polygon fill="#00eeee" points="947.8,746.3 954.6,741.8 959.1,743.0 956.8,747.4 950.1,747.9"/>
<polygon fill="#00eeee" points="1215.2,777.4 1226.5,774.1 1232.1,770.7 1233.2,761.7 1241.0,758.4 1248.9,761.7 1255.6,756.1 1291.5,756.1 1291.5,890.0 1213.0,890.0"/>
<g filter="url(#bl4)">
<polygon fill="#008b8b" points="1222.1,782.7 1220.1,883.0 1284.5,883.0 1284.5,763.1 1258.1,763.1 1253.4,767.1 1252.8,767.5 1252.2,767.9 1251.6,768.2 1250.9,768.4 1250.2,768.6 1249.5,768.7 1248.8,768.7 1248.1,768.7 1247.5,768.6 1246.8,768.4 1246.1,768.2 1241.0,766.0 1239.6,766.6 1239.0,771.6 1238.9,772.3 1238.7,773.0 1238.4,773.6 1238.1,774.2 1237.7,774.8 1237.3,775.4 1236.8,775.9 1236.2,776.3 1235.7,776.7 1230.1,780.1 1229.5,780.4 1229.0,780.6 1228.5,780.8 1222.1,782.7"/>
</g>
<polygon fill="#9acd32" points="1243.3,844.7 1253.4,842.5 1262.3,835.7 1274.7,830.1 1282.5,830.1 1282.5,869.4 1246.6,869.4"/>
<polygon fill="#66a300" points="1263.5,843.6 1274.7,834.6 1279.1,833.5 1279.1,857.0 1270.2,857.0"/>
<polygon fill="#9acd32" points="1230.9,823.4 1237.7,824.5 1238.8,831.3 1233.2,832.4"/>
<polygon fill="#9acd32" points="890.7,833.8 896.3,831.5 898.5,837.1 892.9,838.3"/>
<polygon fill="#eeee00" points="967.9,277.2 974.7,274.9 983.6,277.2 983.6,282.8 974.7,283.9 969.1,281.7"/>
<polygon fill="#eeee00" points="959.0,263.7 964.6,263.7 964.6,267.1 959.0,267.1"/>
<g filter="url(#bl8)">
<polygon fill="#eeee00" stroke="#eeee00" stroke-width="36" stroke-linejoin="round" points="300.0,200.0 773.3,200.0 773.3,246.7 772.7,248.0 754.7,246.7 743.3,252.3 723.3,251.3 712.0,244.7 698.7,243.3 685.0,246.7 669.3,250.3 656.0,248.0 644.7,244.7 635.7,257.0 624.7,266.0 619.0,276.0 624.7,275.0 638.0,272.7 651.3,268.0 660.3,272.7 669.3,281.7 676.0,295.0 665.0,304.0 669.3,308.3 665.0,319.7 662.7,328.7 669.3,335.3 674.0,326.3 682.7,328.7 687.3,335.3 705.3,333.0 709.7,340.0 705.3,343.3 714.3,355.7 712.0,364.7 714.3,378.0 723.3,382.3 730.0,373.3 736.7,378.0 732.0,389.3 723.3,391.3 714.3,387.0 705.3,400.3 696.3,405.0 698.7,409.3 712.0,407.0 725.3,402.7 736.7,402.7 743.3,409.3 748.0,430.0 759.0,445.3 625.0,446.0 625.0,419.0 300.0,419.0"/>
<polygon fill="#eeee00" stroke="#eeee00" stroke-width="44" stroke-linejoin="round" points="760.0,200.0 760.0,250.0 780.0,248.3 800.0,256.7 816.7,263.3 826.7,243.3 840.0,241.7 853.3,260.0 873.3,256.7 893.3,266.7 906.7,240.0 916.7,238.3 923.3,256.7 933.3,266.7 945.0,266.7 950.0,283.3 950.0,286.1 959.0,288.4 963.5,291.7 972.4,298.5 981.4,294.0 990.4,303.0 994.8,311.9 1008.3,309.7 1017.3,308.6 1026.2,309.7 1035.2,314.2 1037.4,320.9 1044.2,323.1 1050.9,329.9 1057.6,336.6 1071.1,338.8 1075.6,336.6 1084.5,341.1 1091.3,343.3 1102.5,334.3 1111.4,332.1 1117.0,336.6 1122.6,327.6 1129.4,319.8 1151.8,318.7 1174.2,316.4 1219.1,318.7 1219.1,197.6"/>
</g>
<polygon fill="#8b1a1a" points="300.0,200.0 773.3,200.0 773.3,246.7 772.7,248.0 754.7,246.7 743.3,252.3 723.3,251.3 712.0,244.7 698.7,243.3 685.0,246.7 669.3,250.3 656.0,248.0 644.7,244.7 635.7,257.0 624.7,266.0 619.0,276.0 624.7,275.0 638.0,272.7 651.3,268.0 660.3,272.7 669.3,281.7 676.0,295.0 665.0,304.0 669.3,308.3 665.0,319.7 662.7,328.7 669.3,335.3 674.0,326.3 682.7,328.7 687.3,335.3 705.3,333.0 709.7,340.0 705.3,343.3 714.3,355.7 712.0,364.7 714.3,378.0 723.3,382.3 730.0,373.3 736.7,378.0 732.0,389.3 723.3,391.3 714.3,387.0 705.3,400.3 696.3,405.0 698.7,409.3 712.0,407.0 725.3,402.7 736.7,402.7 743.3,409.3 748.0,430.0 759.0,445.3 625.0,446.0 625.0,419.0 300.0,419.0"/>
<polygon fill="#8b1a1a" points="760.0,200.0 760.0,250.0 780.0,248.3 800.0,256.7 816.7,263.3 826.7,243.3 840.0,241.7 853.3,260.0 873.3,256.7 893.3,266.7 906.7,240.0 916.7,238.3 923.3,256.7 933.3,266.7 945.0,266.7 950.0,283.3 950.0,286.1 959.0,288.4 963.5,291.7 972.4,298.5 981.4,294.0 990.4,303.0 994.8,311.9 1008.3,309.7 1017.3,308.6 1026.2,309.7 1035.2,314.2 1037.4,320.9 1044.2,323.1 1050.9,329.9 1057.6,336.6 1071.1,338.8 1075.6,336.6 1084.5,341.1 1091.3,343.3 1102.5,334.3 1111.4,332.1 1117.0,336.6 1122.6,327.6 1129.4,319.8 1151.8,318.7 1174.2,316.4 1219.1,318.7 1219.1,197.6"/>
<g filter="url(#bl8)">
<polygon fill="#eeee00" points="1151.8,336.6 1176.5,318.7 1207.8,332.1 1207.8,354.5 1196.6,368.0 1169.7,372.5 1147.3,365.7 1142.8,354.5"/>
</g>
<polygon fill="#8b1a1a" points="1174.2,327.6 1183.2,332.1 1192.2,332.1 1196.6,336.6 1194.4,343.3 1187.7,345.6 1187.7,354.5 1183.2,356.8 1180.9,352.3 1169.7,352.3 1168.6,345.6 1174.2,338.8 1176.5,332.1"/>
<polygon fill="#8b1a1a" points="1170.9,325.4 1178.7,318.7 1186.5,325.4 1178.7,329.4"/>
<polygon fill="#8b1a1a" points="687.3,342.1 714.2,342.1 716.5,355.6 714.2,364.5 716.5,378.0 705.2,387.0 691.8,387.0 700.8,373.5 698.5,360.0 689.6,351.1"/>
<polygon fill="#eeee00" points="662.6,343.2 685.1,343.2 691.8,351.1 700.8,362.3 705.2,373.5 700.8,378.0 691.8,375.7 685.1,380.2 680.6,380.2 678.3,369.0 673.9,357.8"/>
<g filter="url(#bl2)">
<polygon fill="#cdad00" points="670.8,347.2 677.0,355.4 677.2,355.7 677.4,356.0 677.6,356.3 682.1,367.5 682.2,367.9 682.3,368.2 683.9,376.2 689.6,372.4 689.9,372.2 690.3,372.0 690.7,371.9 691.1,371.8 691.5,371.7 691.9,371.7 692.4,371.8 692.8,371.9 699.5,373.6 700.6,372.5 697.3,364.3 688.7,353.6 683.2,347.2 670.8,347.2"/>
</g>
<polygon fill="#eeee00" points="672.7,384.7 680.6,380.7 691.8,381.3 698.5,384.7 697.4,395.9 687.3,404.9 676.1,403.8 670.5,393.7"/>
<g filter="url(#bl2)">
<polygon fill="#cdad00" points="676.2,387.4 674.8,393.1 678.6,400.0 686.0,400.7 693.6,394.0 694.3,387.1 690.7,385.3 681.4,384.7 676.2,387.4"/>
</g>
<g filter="url(#bl4)">
<polygon fill="#eeee00" stroke="#eeee00" stroke-width="8" stroke-linejoin="round" points="761.3,352.2 766.9,348.8 770.3,355.6 779.2,356.7 786.0,364.5 781.5,375.7 773.6,378.0 770.3,369.0 762.4,362.3"/>
</g>
<polygon fill="#8b1a1a" points="761.3,352.2 766.9,348.8 770.3,355.6 779.2,356.7 786.0,364.5 781.5,375.7 773.6,378.0 770.3,369.0 762.4,362.3"/>
<polygon fill="#8b1a1a" points="647.0,256.9 653.7,251.3 667.1,250.2 678.3,259.1 676.1,265.9 662.6,263.6 651.4,264.8"/>
<polygon fill="#8b1a1a" points="672.7,328.7 682.8,326.4 686.2,334.3 680.6,338.7 673.9,337.2"/>
<polygon fill="url(#pOR)" points="546.1,239.0 564.0,236.7 590.9,265.9 593.1,286.1 647.0,288.3 660.4,304.0 647.0,326.4 615.6,342.1 586.4,346.6 579.7,373.5 534.8,382.5 510.2,364.5 514.7,319.7 557.3,304.0 548.3,274.8"/>
<polygon fill="url(#pOR2)" points="626.8,342.1 647.0,342.1 651.4,355.6 647.0,373.5 638.0,387.0 633.5,407.1 627.2,404.9"/>
<polygon fill="url(#pBL)" points="611.1,328.7 660.4,324.2 662.6,339.9 624.5,341.0 615.6,348.8"/>
<polygon fill="url(#pBL)" points="640.2,346.6 660.4,344.3 667.1,360.0 664.9,375.7 647.0,378.0 640.2,364.5"/>
<polygon fill="#0000cd" points="649.2,380.2 655.9,382.5 667.1,395.9 669.4,403.8 662.6,402.6 653.7,391.4"/>
<polygon fill="#0000cd" points="691.8,345.5 700.8,346.6 708.6,357.8 707.5,364.5 700.8,360.0"/>
<polygon fill="#0000cd" points="573.0,311.8 580.8,306.2 582.4,310.7 575.2,316.3"/>
<polygon fill="#0000cd" points="580.8,324.2 585.3,324.2 585.3,330.9 581.5,330.9"/>
<polygon fill="#0000cd" points="599.9,324.2 605.5,325.3 606.6,329.8 601.0,328.7"/>
<polygon fill="url(#pBL)" points="557.3,235.6 577.4,235.6 577.4,250.2 566.2,247.9"/>
<polygon fill="url(#pBL)" points="546.1,355.6 584.2,355.6 584.2,378.0 546.1,378.0"/>
<polygon fill="#eeee00" points="427.6,264.8 438.8,249.1 445.6,240.2 450.0,249.1 454.5,255.9 463.5,253.6 472.5,242.4 477.0,237.9 481.4,249.1 488.2,260.4 497.1,264.8 498.3,287.3 497.1,309.7 477.0,310.8 454.5,314.2 432.1,317.5 418.7,309.7 416.4,298.5 420.9,287.3 425.4,276.1"/>
<g filter="url(#bl2)">
<polygon fill="#cdad00" points="431.4,266.5 429.3,276.8 429.2,277.2 429.1,277.5 420.6,298.9 422.2,307.1 432.9,313.4 453.9,310.2 476.4,306.9 476.7,306.8 493.3,305.9 494.2,287.3 493.3,267.4 486.4,263.9 486.0,263.8 485.7,263.5 485.4,263.3 485.2,263.0 484.9,262.7 484.7,262.4 478.0,251.2 477.9,250.9 477.7,250.6 475.5,245.1 475.5,245.1 466.6,256.1 466.4,256.4 466.1,256.7 465.8,256.9 465.5,257.1 465.2,257.3 464.8,257.4 464.5,257.5 455.5,259.8 455.1,259.8 454.8,259.9 454.4,259.9 454.0,259.8 453.6,259.8 453.3,259.7 452.9,259.5 452.6,259.4 452.3,259.2 452.0,258.9 451.7,258.7 451.4,258.4 451.2,258.1 446.7,251.4 446.5,250.9 444.9,247.8 442.1,251.5 431.4,266.5"/>
</g>
<polygon fill="#eeee00" points="409.7,325.4 432.1,318.7 454.5,315.3 474.7,314.2 468.0,325.4 454.5,329.9 441.1,332.1 432.1,336.6 425.4,345.6 418.7,354.5 414.2,363.5 407.4,359.0 405.2,341.1 406.3,327.6"/>
<g filter="url(#bl4)">
<polygon fill="#cdad00" points="411.8,330.0 411.1,330.4 410.2,341.0 412.1,356.1 412.2,356.2 414.2,352.3 414.4,351.9 414.7,351.5 428.1,333.6 428.4,333.2 428.7,332.9 429.1,332.6 429.5,332.3 429.9,332.1 438.8,327.6 439.3,327.4 439.8,327.3 440.3,327.2 453.3,325.0 464.6,321.2 465.6,319.7 455.0,320.3 433.2,323.5 411.8,330.0"/>
</g>
<polygon fill="#eeee00" points="427.6,341.1 445.6,338.8 459.0,345.6 454.5,350.0 441.1,345.6 429.9,347.8"/>
<g filter="url(#bl4)">
<polygon fill="#cdad00" points="431.6,343.6 431.9,344.3 440.5,342.6 440.8,342.6 441.1,342.6 441.4,342.6 441.7,342.6 442.0,342.7 453.7,346.6 453.9,346.4 445.0,341.9 431.6,343.6"/>
</g>
<polygon fill="#eeee00" points="368.2,294.0 376.1,289.5 385.0,289.5 391.7,271.6 397.4,268.2 395.1,282.8 385.0,294.0 378.3,305.2 382.8,314.2 378.3,320.9 373.8,309.7 368.2,298.5"/>
<g filter="url(#bl4)">
<polygon fill="#cdad00" points="372.2,296.3 372.2,297.5 374.9,303.0 380.6,293.5 377.1,293.5 372.2,296.3"/>
</g>
<polygon fill="#eeee00" points="362.6,325.4 368.2,323.1 385.0,327.6 387.3,336.6 380.5,354.5 385.0,363.5 378.3,377.0 376.1,394.9 371.6,420.0 344.7,420.0 346.9,399.4 353.6,377.0 358.1,354.5 360.4,336.6"/>
<g filter="url(#bl2)">
<polygon fill="#cdad00" points="366.1,328.3 364.3,337.2 362.1,355.0 362.0,355.3 357.6,377.7 357.5,378.1 350.8,400.2 349.1,416.0 368.2,416.0 372.1,394.3 374.3,376.5 374.4,376.0 374.5,375.6 374.7,375.2 380.6,363.5 377.0,356.3 376.8,355.9 376.7,355.5 376.6,355.1 376.5,354.7 376.5,354.3 376.6,353.9 376.7,353.5 376.8,353.1 383.1,336.4 381.7,330.9 368.5,327.3 366.1,328.3"/>
</g>
<polygon fill="#eeee00" points="485.9,343.3 499.4,345.6 506.1,343.3 512.4,355.6 519.1,364.5 530.4,384.7 548.3,387.0 566.2,384.7 584.2,382.5 602.1,380.2 605.5,382.5 597.6,398.2 604.3,409.4 610.0,418.3 463.5,420.0 468.0,399.4 465.7,377.0 477.0,365.7 483.7,354.5"/>
<g filter="url(#bl4)">
<polygon fill="#cdad00" points="489.9,349.0 488.6,355.5 488.4,356.1 488.2,356.6 488.0,357.1 481.2,368.3 480.9,368.8 480.5,369.3 471.0,378.8 473.0,398.9 473.0,399.4 473.0,399.9 472.9,400.4 469.7,414.9 601.0,413.4 600.1,412.0 600.1,411.9 593.3,400.7 593.1,400.3 592.9,399.8 592.8,399.3 592.7,398.9 592.6,398.4 592.6,397.9 592.7,397.4 592.8,396.9 592.9,396.4 593.2,395.9 598.2,385.7 584.8,387.4 566.9,389.7 548.9,391.9 548.5,391.9 548.1,391.9 547.7,391.9 529.7,389.7 529.3,389.6 528.8,389.5 528.4,389.3 528.0,389.1 527.6,388.9 527.2,388.6 526.8,388.3 526.5,387.9 526.2,387.5 526.0,387.1 514.9,367.3 508.4,358.6 508.2,358.2 508.0,357.9 503.6,349.4 501.0,350.3 500.5,350.4 500.0,350.5 499.5,350.6 499.0,350.5 498.6,350.5 489.9,349.0"/>
</g>
<polygon fill="#eeee00" points="583.0,373.5 587.5,370.1 592.0,373.5 590.9,378.4 585.3,379.1"/>
<polygon fill="#eeee00" points="501.2,297.3 510.2,295.0 519.1,297.3 521.4,306.2 514.7,313.0 505.7,311.8 500.1,306.2"/>
<polygon fill="#8b1a1a" points="505.7,300.0 513.5,299.1 516.5,305.1 511.3,308.5 505.2,306.2"/>
<polygon fill="#eeee00" points="500.1,268.1 510.2,267.0 514.7,273.7 507.9,279.3 500.8,277.1"/>
<polygon fill="#eeee00" points="418.7,392.6 425.4,397.1 429.9,406.1 436.6,390.4 441.1,394.9 432.1,410.6 423.1,403.9"/>
<polygon fill="#eeee00" points="445.6,380.3 454.5,383.7 463.5,394.9 459.0,399.4 450.0,390.4"/>
<g filter="url(#bl4)">
<polygon fill="#cdad00" points="451.2,385.6 452.6,388.7 459.0,395.1 459.5,394.7 452.7,386.2 451.2,385.6"/>
</g>
<polygon fill="#eeee00" points="499.4,296.2 506.1,295.1 515.1,298.5 519.6,307.4 528.5,309.7 530.8,311.9 521.8,311.9 515.1,309.7 510.6,305.2 501.6,303.0"/>
<g filter="url(#bl4)">
<polygon fill="#cdad00" points="503.3,298.6 503.9,300.4 511.3,302.3 511.6,302.4 511.8,302.5 512.1,302.6 512.3,302.7 512.5,302.9 512.7,303.1 515.3,305.7 512.9,300.9 505.8,298.2 503.3,298.6"/>
</g>
<polygon fill="#eeee00" points="500.5,264.8 506.1,268.2 510.6,278.3 503.9,279.4 500.5,273.8"/>
<g filter="url(#bl4)">
<polygon fill="#cdad00" points="503.5,270.1 503.5,273.0 505.4,276.1 506.3,276.0 503.7,270.3 503.5,270.1"/>
</g>
<polygon fill="#eeee00" points="584.6,371.3 590.2,369.1 592.4,374.7 587.9,378.1"/>
<polygon fill="#8b1a1a" points="474.7,374.7 485.9,377.0 487.0,390.4 477.0,388.2"/>
<g filter="url(#bl4)">
<polygon fill="#eeee00" stroke="#eeee00" stroke-width="16" stroke-linejoin="round" points="1468.3,331.7 1468.3,360.9 1476.1,358.7 1482.8,351.9 1491.8,345.2 1500.8,336.2 1509.7,329.5 1518.7,323.9 1527.7,325.0 1536.6,329.5 1544.5,334.0 1551.2,339.6 1559.1,339.6 1559.1,260.0 1468.3,260.0"/>
<polygon fill="#eeee00" stroke="#eeee00" stroke-width="16" stroke-linejoin="round" points="1512.0,358.7 1518.7,351.9 1527.7,349.7 1536.6,346.3 1547.8,344.1 1556.8,341.8 1556.8,367.6 1505.2,376.6"/>
<polygon fill="#eeee00" stroke="#eeee00" stroke-width="8" stroke-linejoin="round" points="1457.0,332.9 1468.3,331.3 1468.9,360.9 1464.9,367.6 1460.4,372.1 1455.9,367.6 1451.4,376.6 1447.0,372.1 1444.7,367.6 1447.0,358.7 1455.9,349.7"/>
<polygon fill="#eeee00" stroke="#eeee00" stroke-width="8" stroke-linejoin="round" points="1426.8,343.0 1457.0,340.3 1455.9,349.7 1447.0,358.7 1444.7,372.1 1440.2,381.1 1435.7,394.5 1433.5,399.0 1424.5,399.0 1426.8,381.1 1430.1,365.4 1427.9,354.2"/>
</g>
<g filter="url(#bl2)">
<polygon fill="#eeee00" stroke="#eeee00" stroke-width="4" stroke-linejoin="round" points="1379.7,354.2 1388.7,348.6 1402.1,345.2 1411.1,345.2 1412.2,354.2 1414.4,365.4 1411.1,376.6 1406.6,385.6 1397.6,392.3 1390.9,390.0 1384.2,387.8 1373.0,381.1 1365.1,375.5 1364.0,369.9 1370.7,370.3 1377.4,372.1 1378.6,360.9"/>
<polygon fill="#eeee00" stroke="#eeee00" stroke-width="4" stroke-linejoin="round" points="1379.7,405.7 1386.4,403.5 1397.6,405.7 1404.3,412.5 1397.6,421.4 1388.7,423.7 1381.9,419.2 1378.6,412.5"/>
</g>
<polygon fill="#8b1a1a" points="1468.3,331.7 1468.3,360.9 1476.1,358.7 1482.8,351.9 1491.8,345.2 1500.8,336.2 1509.7,329.5 1518.7,323.9 1527.7,325.0 1536.6,329.5 1544.5,334.0 1551.2,339.6 1559.1,339.6 1559.1,260.0 1468.3,260.0"/>
<polygon fill="#8b1a1a" points="1512.0,358.7 1518.7,351.9 1527.7,349.7 1536.6,346.3 1547.8,344.1 1556.8,341.8 1556.8,367.6 1505.2,376.6"/>
<polygon fill="#8b1a1a" points="1457.0,332.9 1468.3,331.3 1468.9,360.9 1464.9,367.6 1460.4,372.1 1455.9,367.6 1451.4,376.6 1447.0,372.1 1444.7,367.6 1447.0,358.7 1455.9,349.7"/>
<polygon fill="#8b1a1a" points="1426.8,343.0 1457.0,340.3 1455.9,349.7 1447.0,358.7 1444.7,372.1 1440.2,381.1 1435.7,394.5 1433.5,399.0 1424.5,399.0 1426.8,381.1 1430.1,365.4 1427.9,354.2"/>
<polygon fill="#8b1a1a" points="1379.7,354.2 1388.7,348.6 1402.1,345.2 1411.1,345.2 1412.2,354.2 1414.4,365.4 1411.1,376.6 1406.6,385.6 1397.6,392.3 1390.9,390.0 1384.2,387.8 1373.0,381.1 1365.1,375.5 1364.0,369.9 1370.7,370.3 1377.4,372.1 1378.6,360.9"/>
<polygon fill="#8b1a1a" points="1379.7,405.7 1386.4,403.5 1397.6,405.7 1404.3,412.5 1397.6,421.4 1388.7,423.7 1381.9,419.2 1378.6,412.5"/>
<polygon fill="#8b1a1a" points="1422.3,403.5 1430.1,403.5 1430.1,409.1 1422.7,409.1"/>
<polygon fill="#eeee00" points="1433.5,345.2 1438.0,345.2 1435.7,360.9 1431.3,376.6 1427.9,394.5 1425.7,394.5 1429.0,372.1 1432.4,356.4"/>
<polygon fill="#eeee00" points="1447.0,345.2 1450.3,345.2 1444.7,360.9 1440.7,376.6 1438.4,376.6 1442.5,358.7"/>
<g filter="url(#bl6)">
<polygon fill="#eeee00" points="1307.9,401.3 1321.4,396.8 1334.8,403.5 1348.3,399.0 1366.2,403.5 1377.4,401.3 1375.2,412.5 1357.3,410.2 1334.8,414.7 1312.4,410.2"/>
<polygon fill="#eeee00" points="1303.5,428.2 1316.9,424.8 1334.8,430.4 1348.3,427.0 1366.2,429.3 1361.7,434.9 1339.3,436.0 1312.4,434.9"/>
</g>
<g filter="url(#bl4)">
<polygon fill="#eeee00" stroke="#eeee00" stroke-width="7" stroke-linejoin="round" points="693.5,447.0 745.1,447.0 747.3,461.6 745.1,477.3 749.6,490.7 760.8,494.1 763.0,497.4 754.0,504.2 751.8,513.1 745.1,517.6 751.8,526.6 754.0,540.0 747.3,551.3 751.8,558.0 747.3,571.4 742.8,584.9 736.1,587.1 733.9,575.9 740.6,560.2 736.1,553.5 727.1,567.0 720.4,582.6 713.7,584.9 711.4,573.7 707.0,564.7 709.2,555.7 711.4,551.3 698.0,544.5 689.0,544.5 680.0,537.8 677.8,526.6 689.0,522.1 698.0,510.9 707.0,504.2 702.5,495.2 693.5,484.0 686.8,477.3 689.0,466.1 693.5,454.8"/>
<polygon fill="#eeee00" stroke="#eeee00" stroke-width="9" stroke-linejoin="round" points="610.5,420.1 624.0,420.1 624.0,445.9 662.1,447.0 665.5,454.8 650.9,457.1 639.7,463.8 633.0,470.5 639.7,481.7 635.2,486.2 626.2,481.7 621.7,495.2 615.0,510.9 608.3,522.1 601.6,531.1 592.6,540.0 581.4,542.3 580.3,535.6 590.4,526.6 594.8,515.4 606.1,504.2 610.5,486.2 612.8,470.5 608.3,454.8 606.1,436.9"/>
<polygon fill="#eeee00" stroke="#eeee00" stroke-width="10" stroke-linejoin="round" points="709.5,551.2 756.6,551.2 754.3,562.4 747.6,575.9 745.4,587.1 734.2,588.2 736.4,573.6 729.7,566.9 723.0,578.1 718.5,584.8 711.7,580.4 714.0,569.1 709.5,562.4"/>
<polygon fill="#eeee00" points="668.8,447.0 693.5,447.0 693.5,454.8 689.0,466.1 686.8,477.3 675.6,475.0 668.8,466.1"/>
</g>
<polygon fill="#8b1a1a" points="693.5,447.0 745.1,447.0 747.3,461.6 745.1,477.3 749.6,490.7 760.8,494.1 763.0,497.4 754.0,504.2 751.8,513.1 745.1,517.6 751.8,526.6 754.0,540.0 747.3,551.3 751.8,558.0 747.3,571.4 742.8,584.9 736.1,587.1 733.9,575.9 740.6,560.2 736.1,553.5 727.1,567.0 720.4,582.6 713.7,584.9 711.4,573.7 707.0,564.7 709.2,555.7 711.4,551.3 698.0,544.5 689.0,544.5 680.0,537.8 677.8,526.6 689.0,522.1 698.0,510.9 707.0,504.2 702.5,495.2 693.5,484.0 686.8,477.3 689.0,466.1 693.5,454.8"/>
<polygon fill="#8b1a1a" points="610.5,420.1 624.0,420.1 624.0,445.9 662.1,447.0 665.5,454.8 650.9,457.1 639.7,463.8 633.0,470.5 639.7,481.7 635.2,486.2 626.2,481.7 621.7,495.2 615.0,510.9 608.3,522.1 601.6,531.1 592.6,540.0 581.4,542.3 580.3,535.6 590.4,526.6 594.8,515.4 606.1,504.2 610.5,486.2 612.8,470.5 608.3,454.8 606.1,436.9"/>
<polygon fill="#eeee00" points="652.0,429.1 663.2,430.2 659.9,443.6 654.3,443.6"/>
<polygon fill="#90ee90" points="767.5,526.6 774.2,517.6 785.4,514.3 798.9,513.1 805.6,515.4 814.1,510.9 814.1,550.8 796.6,549.0 792.2,542.3 783.2,540.0 774.2,535.6"/>
<g filter="url(#bl4)">
<polygon fill="#3f9a3f" points="776.2,526.6 778.8,530.0 785.6,533.4 793.9,535.5 794.5,535.7 795.1,535.9 795.6,536.2 796.2,536.6 796.7,537.0 797.2,537.4 797.6,537.9 798.0,538.4 800.6,542.4 807.1,543.1 807.1,522.2 806.9,522.3 806.2,522.4 805.5,522.4 804.8,522.3 804.1,522.2 803.4,522.0 798.0,520.2 786.7,521.2 778.4,523.7 776.2,526.6"/>
</g>
<polygon fill="#90ee90" points="665.5,486.2 657.6,487.4 648.7,490.7 644.2,499.7 639.7,508.7 628.5,510.9 621.7,517.6 626.2,526.6 619.5,535.6 617.3,544.5 606.1,546.8 617.3,550.8 665.5,550.8"/>
<g filter="url(#bl2)">
<polygon fill="#006400" points="622.1,545.8 660.5,545.8 660.5,492.0 658.9,492.2 652.2,494.7 644.2,510.9 643.9,511.3 643.6,511.7 643.3,512.1 642.9,512.5 642.5,512.8 642.1,513.0 641.6,513.3 641.2,513.4 640.7,513.6 630.9,515.5 627.8,518.6 630.7,524.4 630.9,524.8 631.1,525.3 631.2,525.8 631.2,526.3 631.2,526.8 631.2,527.3 631.1,527.8 630.9,528.3 630.8,528.7 630.5,529.2 630.2,529.6 624.1,537.8 622.1,545.7 622.1,545.8"/>
</g>
<polygon fill="#cdad00" points="646.4,517.6 657.6,515.4 662.1,526.6 655.4,535.6 646.4,531.1"/>
<polygon fill="#ff00ff" points="625.1,544.5 628.5,537.8 635.2,528.8 639.7,526.6 638.6,532.2 633.0,540.0 628.5,546.8"/>
<polygon fill="#90ee90" points="563.5,553.5 594.8,555.7 608.3,567.0 624.0,564.7 639.7,553.5 655.4,555.7 662.1,567.0 655.4,580.4 644.2,589.4 648.7,602.8 639.7,610.0 624.0,610.0 626.2,596.1 617.3,584.9 606.1,580.4 594.8,571.4 576.9,567.0 563.5,564.7"/>
<g filter="url(#bl2)">
<polygon fill="#006400" points="568.5,558.9 568.5,560.5 577.7,562.0 578.1,562.1 596.1,566.6 596.6,566.7 597.1,567.0 597.5,567.2 598.0,567.5 608.6,576.0 619.1,580.2 619.6,580.5 620.0,580.7 620.4,581.0 620.8,581.4 621.2,581.8 630.1,593.0 630.4,593.4 630.6,593.7 630.8,594.2 631.0,594.6 631.1,595.1 631.2,595.5 631.2,596.0 631.2,596.4 631.2,596.9 629.9,605.0 637.9,605.0 642.8,601.1 639.4,591.0 639.3,590.5 639.2,590.0 639.2,589.5 639.2,589.0 639.3,588.4 639.4,588.0 639.5,587.5 639.8,587.0 640.0,586.6 640.3,586.2 640.7,585.8 641.0,585.5 651.4,577.2 656.4,567.2 652.3,560.4 641.0,558.7 626.9,568.8 626.5,569.0 626.1,569.3 625.6,569.4 625.2,569.6 624.7,569.7 609.0,571.9 608.5,571.9 608.1,571.9 607.6,571.9 607.2,571.8 606.7,571.7 606.3,571.5 605.9,571.3 605.5,571.1 605.1,570.8 592.9,560.6 568.5,558.9"/>
<polygon fill="#90ee90" points="666.6,553.5 682.3,555.7 677.8,571.4 671.1,567.0"/>
</g>
<polygon fill="url(#pBL)" points="700.2,466.1 711.4,464.9 713.7,481.7 704.7,484.0"/>
<polygon fill="url(#pBL)" points="727.1,450.4 742.8,449.2 743.9,477.3 738.3,493.0 727.1,490.7 729.4,470.5"/>
<polygon fill="url(#pBL)" points="704.7,488.5 720.4,486.2 729.4,493.0 729.4,510.9 715.9,510.9 705.8,501.9"/>
<polygon fill="url(#pBL)" points="684.5,519.9 704.7,517.6 720.4,524.3 722.6,544.5 707.0,544.5 689.0,537.8"/>
<polygon fill="url(#pBL)" points="733.9,508.7 747.3,510.9 751.8,526.6 752.9,549.0 745.1,549.0 740.6,526.6"/>
<polygon fill="#0000cd" points="629.6,449.2 649.8,448.6 650.4,455.3 631.2,455.5"/>
<polygon fill="url(#pOR)" points="693.5,448.1 745.1,448.1 751.8,499.7 751.8,549.0 684.5,544.5 693.5,499.7"/>
<polygon fill="url(#pOR)" points="608.3,454.8 624.0,448.1 639.7,466.1 624.0,499.7 594.8,535.6 583.6,540.0 606.1,499.7"/>
<polygon fill="#8b1a1a" points="624.4,423.9 745.1,423.9 747.8,430.0 758.5,445.0 624.4,445.4"/>
<polygon fill="#eeee00" points="652.0,429.1 663.2,430.2 659.9,443.6 654.3,443.6"/>
<g filter="url(#bl4)">
<polygon fill="#eeee00" stroke="#eeee00" stroke-width="8" stroke-linejoin="round" points="404.0,423.5 428.7,422.3 430.9,432.4 419.7,443.6 428.7,450.4 424.2,461.6 408.5,466.1 401.7,454.8 415.2,448.1 413.0,436.9 404.0,432.4"/>
</g>
<polygon fill="#8b1a1a" points="404.0,423.5 428.7,422.3 430.9,432.4 419.7,443.6 428.7,450.4 424.2,461.6 408.5,466.1 401.7,454.8 415.2,448.1 413.0,436.9 404.0,432.4"/>
<g filter="url(#bl4)">
<polygon fill="#eeee00" stroke="#eeee00" stroke-width="8" stroke-linejoin="round" points="419.7,463.8 435.4,466.1 436.5,499.7 428.7,495.2 424.2,481.7"/>
</g>
<polygon fill="#8b1a1a" points="419.7,463.8 435.4,466.1 436.5,499.7 428.7,495.2 424.2,481.7"/>
<g filter="url(#bl4)">
<polygon fill="#eeee00" stroke="#eeee00" stroke-width="8" stroke-linejoin="round" points="368.1,427.9 377.1,425.7 386.1,432.4 381.6,443.6 372.6,445.9 367.0,436.9"/>
</g>
<polygon fill="#8b1a1a" points="368.1,427.9 377.1,425.7 386.1,432.4 381.6,443.6 372.6,445.9 367.0,436.9"/>
<g filter="url(#bl4)">
<polygon fill="#eeee00" stroke="#eeee00" stroke-width="8" stroke-linejoin="round" points="356.9,423.5 363.6,422.3 365.9,430.2 359.1,432.4"/>
</g>
<polygon fill="#8b1a1a" points="356.9,423.5 363.6,422.3 365.9,430.2 359.1,432.4"/>
<g filter="url(#bl4)">
<polygon fill="#eeee00" stroke="#eeee00" stroke-width="9" stroke-linejoin="round" points="437.6,421.2 455.6,421.2 457.8,432.4 451.1,441.4 442.1,436.9 437.6,430.2"/>
</g>
<polygon fill="#8b1a1a" points="437.6,421.2 455.6,421.2 457.8,432.4 451.1,441.4 442.1,436.9 437.6,430.2"/>
<g filter="url(#bl4)">
<polygon fill="#eeee00" stroke="#eeee00" stroke-width="9" stroke-linejoin="round" points="516.1,421.2 560.9,421.2 560.9,450.4 552.0,454.8 540.8,443.6 531.8,457.1 527.3,448.1 516.1,441.4 511.6,430.2"/>
</g>
<polygon fill="#8b1a1a" points="516.1,421.2 560.9,421.2 560.9,450.4 552.0,454.8 540.8,443.6 531.8,457.1 527.3,448.1 516.1,441.4 511.6,430.2"/>
<g filter="url(#bl4)">
<polygon fill="#eeee00" stroke="#eeee00" stroke-width="9" stroke-linejoin="round" points="484.7,490.7 500.4,488.5 501.5,506.4 491.4,509.8 484.7,501.9"/>
</g>
<polygon fill="#8b1a1a" points="484.7,490.7 500.4,488.5 501.5,506.4 491.4,509.8 484.7,501.9"/>
<g filter="url(#bl4)">
<polygon fill="#eeee00" stroke="#eeee00" stroke-width="9" stroke-linejoin="round" points="502.6,493.0 516.1,488.5 519.5,504.2 509.4,515.4 503.8,508.7"/>
</g>
<polygon fill="#8b1a1a" points="502.6,493.0 516.1,488.5 519.5,504.2 509.4,515.4 503.8,508.7"/>
<g filter="url(#bl4)">
<polygon fill="#eeee00" stroke="#eeee00" stroke-width="9" stroke-linejoin="round" points="528.4,488.5 544.1,484.0 546.4,499.7 536.3,504.2 529.6,499.7"/>
</g>
<polygon fill="#8b1a1a" points="528.4,488.5 544.1,484.0 546.4,499.7 536.3,504.2 529.6,499.7"/>
<g filter="url(#bl4)">
<polygon fill="#eeee00" stroke="#eeee00" stroke-width="9" stroke-linejoin="round" points="545.2,466.1 556.5,463.8 557.6,481.7 548.6,484.0"/>
</g>
<polygon fill="#8b1a1a" points="545.2,466.1 556.5,463.8 557.6,481.7 548.6,484.0"/>
<g filter="url(#bl4)">
<polygon fill="#eeee00" stroke="#eeee00" stroke-width="9" stroke-linejoin="round" points="464.5,430.2 473.5,427.9 475.7,441.4 466.8,443.6"/>
</g>
<polygon fill="#8b1a1a" points="464.5,430.2 473.5,427.9 475.7,441.4 466.8,443.6"/>
<g filter="url(#bl4)">
<polygon fill="#eeee00" stroke="#eeee00" stroke-width="9" stroke-linejoin="round" points="487.0,423.5 493.7,423.5 492.6,436.9 487.0,434.7"/>
</g>
<polygon fill="#8b1a1a" points="487.0,423.5 493.7,423.5 492.6,436.9 487.0,434.7"/>
<g filter="url(#bl6)">
<polygon fill="#eeee00" points="500.4,454.8 522.8,450.4 531.8,468.3 522.8,484.0 504.9,486.2 495.9,472.8"/>
</g>
<polygon fill="#90ee90" points="383.8,445.9 395.0,447.0 399.5,461.6 406.2,477.3 415.2,488.5 421.9,499.7 428.7,513.1 437.6,526.6 442.1,540.0 451.1,553.5 457.8,567.0 462.3,580.4 460.0,589.4 469.0,600.6 473.5,610.0 474.0,619.5 483.0,628.5 489.7,639.7 496.4,653.1 505.4,662.1 496.4,666.6 491.9,655.4 483.0,639.7 474.0,628.5 460.5,621.7 444.8,617.3 426.9,615.0 422.4,601.6 413.5,588.1 402.2,574.7 417.4,598.3 408.5,584.9 401.7,567.0 395.0,553.5 390.5,542.3 383.8,535.6 379.3,522.1 372.6,510.9 367.0,499.7 368.1,490.7 374.8,493.0 378.2,484.0 377.1,468.3 379.3,454.8"/>
<g filter="url(#bl2)">
<polygon fill="#006400" points="386.2,450.1 383.2,456.1 381.1,468.5 382.2,483.7 382.2,484.1 382.2,484.6 382.1,485.0 382.0,485.4 378.6,494.4 378.4,494.7 378.3,495.1 378.0,495.4 377.8,495.7 377.5,495.9 377.2,496.2 376.9,496.4 376.6,496.6 376.2,496.7 375.8,496.8 375.5,496.9 375.1,497.0 374.7,497.0 374.3,496.9 373.9,496.9 373.6,496.8 371.5,496.1 371.1,499.0 376.1,509.0 382.8,520.0 383.0,520.4 383.1,520.8 387.3,533.4 393.4,539.5 393.6,539.8 393.9,540.1 394.1,540.4 394.3,540.8 398.7,551.9 405.3,565.2 405.5,565.5 410.1,577.9 416.5,585.6 416.8,585.9 425.7,599.4 425.9,599.7 426.1,600.0 426.2,600.3 429.9,611.4 445.3,613.3 445.6,613.3 445.9,613.4 461.6,617.9 462.0,618.0 462.3,618.2 471.7,622.8 471.2,622.3 470.9,622.0 470.6,621.7 470.4,621.3 470.3,620.9 470.1,620.5 470.0,620.1 470.0,619.7 469.5,611.0 465.6,602.7 456.9,591.9 456.7,591.5 456.5,591.2 456.3,590.8 456.2,590.4 456.1,590.0 456.1,589.6 456.0,589.2 456.1,588.8 456.2,588.4 458.1,580.6 454.1,568.5 447.6,555.5 438.8,542.3 438.6,542.0 438.4,541.6 438.3,541.3 434.0,528.4 425.3,515.4 425.1,514.9 418.4,501.6 411.9,490.8 403.1,479.8 402.9,479.5 402.7,479.2 402.6,478.8 395.8,463.1 395.7,462.7 392.0,450.7 386.2,450.1"/>
<polygon fill="#006400" points="498.4,660.8 498.5,661.1 498.6,661.0 498.4,660.8"/>
</g>
<polygon fill="#cdad00" stroke="#cdad00" stroke-width="14" stroke-linejoin="round" points="419.7,477.3 428.7,479.5 435.4,499.7 442.1,508.7 451.1,517.6 457.8,526.6 464.5,535.6 473.5,544.5 478.0,558.0 475.7,571.4 473.5,580.4 466.8,575.9 462.3,564.7 455.6,553.5 446.6,544.5 442.1,531.1 435.4,517.6 428.7,506.4 424.2,495.2 419.7,486.2"/>
<polygon fill="#8b1a1a" points="419.7,477.3 428.7,479.5 435.4,499.7 442.1,508.7 451.1,517.6 457.8,526.6 464.5,535.6 473.5,544.5 478.0,558.0 475.7,571.4 473.5,580.4 466.8,575.9 462.3,564.7 455.6,553.5 446.6,544.5 442.1,531.1 435.4,517.6 428.7,506.4 424.2,495.2 419.7,486.2"/>
<polygon fill="#0000cd" points="442.1,515.4 446.6,514.3 453.3,526.6 464.5,540.0 472.4,553.5 473.5,567.0 467.9,564.7 462.3,551.3 453.3,540.0 446.6,528.8"/>
<polygon fill="#ff00ff" points="380.4,454.8 388.3,451.5 395.0,461.6 397.3,475.0 404.0,484.0 407.4,495.2 401.7,497.4 397.3,488.5 390.5,490.7 384.9,484.0 381.6,470.5"/>
<polygon fill="#ff00ff" points="390.5,499.7 395.0,501.9 396.1,508.7 392.8,512.0"/>
<polygon fill="#ff00ff" points="413.0,535.6 424.2,526.6 428.7,535.6 437.6,544.5 446.6,549.0 453.3,558.0 460.0,571.4 462.3,584.9 457.8,596.1 464.5,610.0 456.1,563.5 460.5,581.4 462.8,599.3 456.1,606.1 444.8,601.6 435.9,590.4 429.1,576.9 422.4,563.5 430.9,584.9 426.4,567.0 419.7,555.7 413.0,546.8"/>
<g filter="url(#bl2)">
<polygon fill="#8b008b" points="416.0,537.0 416.0,545.8 422.1,553.9 422.3,554.2 429.0,565.4 429.1,565.7 429.2,565.9 429.3,566.2 431.5,574.9 438.4,588.7 446.7,599.1 455.3,602.5 456.8,601.0 455.1,597.4 455.0,597.1 454.9,596.8 454.8,596.5 454.8,596.2 454.8,595.9 454.8,595.6 454.9,595.3 455.0,595.0 457.9,587.8 458.0,587.5 458.2,587.2 458.3,587.1 458.3,586.9 458.4,586.6 458.5,586.3 459.2,584.6 457.2,572.4 450.8,559.6 444.6,551.4 436.3,547.2 436.0,547.1 435.7,546.9 435.5,546.7 426.5,537.7 426.3,537.4 426.1,537.2 426.0,536.9 423.1,531.3 416.0,537.0"/>
</g>
<g filter="url(#bl4)">
<polygon fill="#ff00ff" points="415.2,535.6 424.2,528.8 430.9,540.0 435.4,553.5 428.7,562.5 419.7,553.5"/>
</g>
<polygon fill="#8b008b" points="467.3,579.1 480.7,574.7 494.2,563.5 505.4,556.7 516.6,563.5 530.0,576.9 543.5,590.4 552.5,606.1 554.7,624.0 548.0,644.2 545.7,664.3 496.4,667.7 494.2,655.4 485.2,639.7 474.0,626.2 462.8,617.3 467.3,608.3 474.0,594.8"/>
<g filter="url(#bl2)">
<polygon fill="#ff00ff" points="469.5,606.1 478.5,603.8 489.7,607.2 488.6,615.0 476.2,615.0"/>
</g>
<polygon fill="#cdad00" points="444.8,607.2 453.8,604.9 465.0,608.3 474.0,612.8 467.3,616.1 453.8,613.9"/>
<polygon fill="#8b1a1a" points="498.7,622.2 504.9,621.7 505.8,628.9 499.8,629.8"/>
<polygon fill="#8b1a1a" points="457.2,550.0 474.0,550.0 476.2,563.5 471.7,579.1 462.8,576.9 458.3,563.5"/>
<polygon fill="#3a943a" points="463.6,506.4 473.5,518.7 487.0,535.6 484.7,538.9 471.3,522.1 462.3,508.7"/>
<polygon fill="#90ee90" points="484.7,535.6 500.4,542.3 516.1,546.8 536.3,541.2 554.2,541.2 563.2,543.4 563.2,553.5 540.8,555.7 520.6,558.0 500.4,555.7 487.0,546.8"/>
<g filter="url(#bl2)">
<polygon fill="#006400" points="490.1,542.2 490.5,544.4 501.8,551.9 520.6,554.0 540.3,551.8 540.4,551.8 559.2,549.9 559.2,546.5 553.7,545.2 536.8,545.2 517.2,550.6 516.8,550.7 516.4,550.8 516.1,550.8 515.7,550.8 515.4,550.7 515.0,550.6 499.3,546.1 498.8,546.0 490.1,542.2"/>
</g>
<polygon fill="#ff00ff" points="487.0,549.0 504.9,553.5 522.8,555.7 540.8,549.0 563.2,549.0 563.2,610.0 554.2,610.0 520.6,580.4 500.4,562.5"/>
<g filter="url(#bl2)">
<polygon fill="#8b008b" points="500.0,556.4 503.1,559.6 523.2,577.4 555.7,606.0 559.2,606.0 559.2,553.0 541.5,553.0 524.2,559.5 523.9,559.6 523.5,559.7 523.1,559.7 522.7,559.7 522.3,559.7 504.4,557.5 503.9,557.4 500.0,556.4"/>
</g>
<polygon fill="#cd6600" points="534.0,567.0 545.2,555.7 560.9,555.7 562.1,580.4 552.0,584.9 543.0,580.4 545.2,571.4"/>
<polygon fill="#8b008b" points="478.0,544.5 487.0,546.8 500.4,562.5 520.6,580.4 554.2,610.0 487.0,610.0 482.5,589.4 484.7,575.9 478.0,562.5"/>
<polygon fill="#cd6600" points="487.0,562.5 495.9,567.0 504.9,580.4 516.1,596.1 522.8,610.0 509.4,610.0 502.6,598.3 493.7,584.9"/>
<polygon fill="#008b8b" points="492.6,555.7 498.2,558.0 507.1,575.9 516.1,589.4 511.6,589.4 502.6,575.9"/>
<polygon fill="#8b1a1a" points="473.5,553.5 479.1,555.7 484.7,571.4 487.0,587.1 480.2,587.1 475.7,571.4"/>
<polygon fill="#cd6600" points="500.9,603.8 512.1,592.6 521.1,594.8 534.5,606.1 545.7,610.5 552.5,617.3 543.5,619.5 534.5,617.3 521.1,624.0 512.1,621.7 514.3,612.8 505.4,610.5"/>
<polygon fill="#cd6600" points="532.3,570.2 543.5,563.5 557.0,556.7 557.0,572.4 545.7,579.1 536.8,581.4"/>
<polygon fill="#008b8b" points="507.6,633.0 518.8,615.0 534.5,615.0 543.5,619.5 554.7,621.7 552.5,635.2 545.7,648.7 548.0,657.6 543.5,664.3 521.1,665.5 514.3,653.1"/>
<g filter="url(#bl2)">
<polygon fill="#00eeee" points="524.4,649.8 533.4,648.7 534.5,656.5 526.7,657.6"/>
</g>
<polygon fill="#cd6600" points="516.6,624.0 525.6,626.2 534.5,635.2 543.5,644.2 539.0,648.7 530.0,639.7 521.1,633.0"/>
<polygon fill="#006400" points="561.5,551.4 666.3,551.4 666.3,702.1 621.5,702.1 543.3,671.6 551.0,658.2 547.2,646.8 558.6,623.9 549.1,597.2 545.3,574.3 558.6,576.2 561.5,568.6"/>
<polygon fill="#90ee90" stroke="#90ee90" stroke-width="5" stroke-linejoin="round" points="592.9,557.2 606.3,555.3 612.0,562.9 610.1,572.4 602.5,576.2 594.8,572.4 591.0,564.8"/>
<polygon fill="#cdad00" points="592.9,557.2 606.3,555.3 612.0,562.9 610.1,572.4 602.5,576.2 594.8,572.4 591.0,564.8"/>
<polygon fill="#90ee90" stroke="#90ee90" stroke-width="5" stroke-linejoin="round" points="573.9,585.8 581.5,578.1 592.9,575.3 602.5,580.0 606.3,589.6 613.9,595.3 619.6,602.9 613.9,610.6 606.3,604.8 598.6,602.9 592.9,597.2 587.2,601.0 585.3,608.6 577.7,604.8 573.9,595.3"/>
<polygon fill="#cdad00" points="573.9,585.8 581.5,578.1 592.9,575.3 602.5,580.0 606.3,589.6 613.9,595.3 619.6,602.9 613.9,610.6 606.3,604.8 598.6,602.9 592.9,597.2 587.2,601.0 585.3,608.6 577.7,604.8 573.9,595.3"/>
<polygon fill="#90ee90" stroke="#90ee90" stroke-width="5" stroke-linejoin="round" points="613.9,604.8 619.6,602.9 625.3,606.7 633.0,610.6 642.5,616.3 652.0,620.1 661.6,616.3 666.3,616.3 666.3,646.8 661.6,648.7 654.0,650.6 648.2,646.8 640.6,643.0 633.0,635.3 625.3,629.6 619.6,623.9 615.8,616.3"/>
<polygon fill="#cdad00" points="613.9,604.8 619.6,602.9 625.3,606.7 633.0,610.6 642.5,616.3 652.0,620.1 661.6,616.3 666.3,616.3 666.3,646.8 661.6,648.7 654.0,650.6 648.2,646.8 640.6,643.0 633.0,635.3 625.3,629.6 619.6,623.9 615.8,616.3"/>
<polygon fill="#90ee90" stroke="#90ee90" stroke-width="5" stroke-linejoin="round" points="631.1,557.2 638.7,555.3 644.4,561.0 652.0,559.1 655.9,566.7 661.6,564.8 666.3,562.9 666.3,589.6 659.7,587.7 652.0,582.0 644.4,578.1 636.8,572.4 633.0,564.8"/>
<polygon fill="#cdad00" points="631.1,557.2 638.7,555.3 644.4,561.0 652.0,559.1 655.9,566.7 661.6,564.8 666.3,562.9 666.3,589.6 659.7,587.7 652.0,582.0 644.4,578.1 636.8,572.4 633.0,564.8"/>
<polygon fill="#90ee90" stroke="#90ee90" stroke-width="5" stroke-linejoin="round" points="564.3,555.3 579.6,554.3 587.2,559.1 583.4,566.7 573.9,568.6 566.2,564.8"/>
<polygon fill="#cdad00" points="564.3,555.3 579.6,554.3 587.2,559.1 583.4,566.7 573.9,568.6 566.2,564.8"/>
<polygon fill="#ff00ff" points="561.5,551.4 568.1,554.3 566.2,564.8 562.4,576.2 568.1,583.9 573.9,597.2 579.6,604.8 589.1,608.6 598.6,606.7 606.3,612.5 613.9,620.1 621.5,623.9 629.2,633.4 636.8,639.2 644.4,646.8 654.0,652.5 666.3,654.4 666.3,702.1 621.5,702.1 543.3,671.6 551.0,658.2 547.2,646.8 558.6,623.9 549.1,597.2 545.3,574.3 558.6,576.2 561.5,568.6"/>
<g filter="url(#bl2)">
<polygon fill="#8b008b" points="560.4,578.6 560.4,578.7 560.1,578.8 559.9,578.9 559.6,579.1 559.3,579.1 559.0,579.2 558.8,579.2 558.5,579.2 558.2,579.2 548.9,577.9 552.0,596.5 561.4,622.9 561.5,623.2 561.6,623.5 561.6,623.8 561.6,624.1 561.6,624.4 561.5,624.7 561.4,625.0 561.3,625.2 550.4,647.0 553.8,657.3 553.9,657.6 553.9,657.8 554.0,658.1 554.0,658.4 553.9,658.7 553.9,658.9 553.8,659.2 553.7,659.5 553.6,659.7 547.7,670.0 622.1,699.1 663.3,699.1 663.3,657.0 653.5,655.5 653.2,655.4 652.9,655.3 652.7,655.2 652.4,655.1 642.9,649.4 642.6,649.2 642.3,648.9 634.8,641.4 627.4,635.8 627.2,635.7 627.0,635.5 626.8,635.3 619.6,626.3 612.6,622.8 612.3,622.6 612.0,622.4 611.8,622.2 604.3,614.7 597.9,609.9 589.7,611.6 589.4,611.6 589.1,611.6 588.8,611.6 588.6,611.6 588.3,611.5 588.0,611.4 578.5,607.6 578.2,607.5 578.0,607.4 577.8,607.2 577.5,607.0 577.4,606.8 577.2,606.6 571.5,599.0 571.3,598.7 571.1,598.4 565.5,585.4 560.4,578.6"/>
<polygon fill="#8b008b" points="564.5,557.7 564.8,556.1 564.5,556.0 564.5,557.7"/>
</g>
<polygon fill="#ff00ff" points="568.1,568.6 579.6,570.5 592.9,566.7 606.3,561.0 619.6,556.2 620.6,559.1 608.2,564.8 593.9,570.5 579.6,573.9 568.1,572.4"/>
<polygon fill="#006400" points="629.2,686.8 636.8,684.9 640.6,692.6 636.8,699.2 630.1,697.3"/>
<polygon fill="#006400" points="661.6,654.4 666.3,652.5 666.3,673.5 662.5,671.6"/>
<polygon fill="#006400" points="640.6,654.4 648.2,656.3 652.0,665.9 646.3,669.7 641.6,664.0"/>
<polygon fill="#cd6600" points="551.0,602.9 558.6,601.0 568.1,608.6 577.7,616.3 587.2,620.1 596.7,623.9 598.6,631.5 592.9,639.2 585.3,643.0 579.6,650.6 568.1,654.4 558.6,652.5 552.9,643.0 556.7,631.5 558.6,623.9"/>
<polygon fill="#cd6600" points="587.2,677.3 592.9,664.0 602.5,656.3 612.0,654.4 621.5,658.2 631.1,662.0 633.9,673.5 629.2,684.9 619.6,686.8 613.9,692.6 610.1,695.4"/>
<polygon fill="#cd6600" points="533.8,557.2 545.3,555.3 558.6,559.1 558.6,576.2 549.1,578.1 541.4,574.3 533.8,578.1"/>
<polygon fill="#00eeee" points="545.3,671.6 549.1,662.0 551.0,654.4 554.8,646.8 560.5,652.5 572.0,652.5 583.4,646.8 591.0,639.2 600.6,633.4 612.0,635.3 619.6,643.0 621.5,652.5 612.0,656.3 602.5,658.2 592.9,665.9 587.2,677.3 585.3,682.1"/>
<g filter="url(#bl2)">
<polygon fill="#008b8b" points="549.3,669.5 583.5,678.5 584.4,676.2 584.5,676.0 590.2,664.5 590.4,664.2 590.6,664.0 590.8,663.7 591.1,663.5 600.6,655.9 600.8,655.7 601.1,655.6 601.3,655.5 601.6,655.4 601.9,655.3 611.1,653.4 618.1,650.7 616.9,644.5 610.6,638.1 601.2,636.6 592.9,641.5 585.5,648.9 585.3,649.1 585.0,649.3 584.7,649.5 573.3,655.2 573.0,655.3 572.8,655.4 572.5,655.5 572.2,655.5 572.0,655.5 560.5,655.5 560.2,655.5 559.9,655.5 559.6,655.4 559.4,655.3 559.1,655.2 558.8,655.0 558.6,654.8 558.4,654.6 555.6,651.9 553.8,655.5 552.0,662.8 551.9,663.2 549.3,669.5"/>
</g>
<polygon fill="#8b1a1a" points="605.3,592.4 612.0,591.5 613.3,600.1 606.7,601.4"/>
<polygon fill="#8b1a1a" points="597.7,559.1 603.4,559.1 603.4,570.5 598.3,570.5"/>
<polygon fill="#8b1a1a" points="650.1,626.8 659.7,625.8 663.5,633.4 661.6,641.1 654.0,640.1 650.1,633.4"/>
<polygon fill="#8b1a1a" points="614.9,607.7 617.7,607.7 617.7,611.5 614.9,611.5"/>
<polygon fill="#8b1a1a" points="709.5,551.2 756.6,551.2 754.3,562.4 747.6,575.9 745.4,587.1 734.2,588.2 736.4,573.6 729.7,566.9 723.0,578.1 718.5,584.8 711.7,580.4 714.0,569.1 709.5,562.4"/>
<polygon fill="#0000cd" points="717.4,546.7 721.8,546.7 720.7,550.8 717.4,550.8"/>
<polygon fill="#0000cd" points="745.4,544.5 752.1,542.2 753.2,549.0 747.6,550.8"/>
<polygon fill="#90ee90" stroke="#90ee90" stroke-width="4" stroke-linejoin="round" points="707.3,614.0 714.0,596.1 723.0,584.8 727.4,591.6 720.7,607.3 718.5,625.2 725.2,634.2 734.2,631.9 738.7,640.9 734.2,656.6 729.7,670.0 720.7,674.5 716.2,665.6 711.7,647.6 705.0,629.7"/>
<polygon fill="#006400" points="707.3,614.0 714.0,596.1 723.0,584.8 727.4,591.6 720.7,607.3 718.5,625.2 725.2,634.2 734.2,631.9 738.7,640.9 734.2,656.6 729.7,670.0 720.7,674.5 716.2,665.6 711.7,647.6 705.0,629.7"/>
<polygon fill="#90ee90" stroke="#90ee90" stroke-width="4" stroke-linejoin="round" points="669.1,553.5 684.8,555.7 680.4,569.1 673.6,580.4 669.1,578.1"/>
<polygon fill="#006400" points="669.1,553.5 684.8,555.7 680.4,569.1 673.6,580.4 669.1,578.1"/>
<g filter="url(#bl6)">
<polygon fill="#eeee00" points="675.9,598.3 698.3,596.1 707.3,614.0 702.8,636.4 684.8,640.9 673.6,625.2"/>
</g>
<polygon fill="#8b1a1a" points="650.1,629.7 657.9,626.3 663.5,631.9 661.3,640.9 653.5,642.0"/>
<polygon fill="#8b1a1a" points="734.2,647.6 738.7,647.6 739.8,665.6 735.3,666.7"/>
<polygon fill="#8b1a1a" points="675.9,593.8 683.7,592.7 682.6,598.3 677.0,598.7"/>
<polygon fill="#8b1a1a" points="694.9,591.6 702.8,590.4 700.5,597.2 695.6,597.8"/>
<polygon fill="#8b1a1a" points="671.4,645.4 677.0,644.3 677.0,652.1 671.8,652.1"/>
<polygon fill="#eeee00" points="495.9,344.8 497.0,418.8 455.6,418.8 451.1,405.4 444.3,400.9 446.6,389.7 451.1,383.0 464.5,378.5 469.0,369.5 482.5,362.8 487.0,351.6"/>
<g filter="url(#bl2)">
<polygon fill="#cdad00" points="492.0,352.8 490.2,354.1 486.2,364.3 486.0,364.6 485.8,365.0 485.5,365.3 485.3,365.6 485.0,365.9 484.6,366.2 484.3,366.4 472.0,372.5 468.1,380.3 467.9,380.6 467.7,380.9 467.4,381.2 467.1,381.5 466.8,381.7 466.5,382.0 466.2,382.1 465.8,382.3 453.6,386.3 450.4,391.2 448.8,399.1 453.3,402.1 453.6,402.3 453.9,402.5 454.1,402.8 454.4,403.1 454.6,403.4 454.7,403.8 454.9,404.1 458.4,414.8 493.0,414.8 492.0,352.8"/>
</g>
<polygon fill="#eeee00" points="419.7,391.9 426.4,398.7 430.9,405.4 435.4,394.2 439.9,389.7 437.6,405.4 430.9,412.1 424.2,405.4"/>
<g filter="url(#bl2)">
<polygon fill="#cdad00" points="424.3,399.3 425.9,404.3 430.9,409.3 435.7,404.4 437.0,395.5 432.8,406.1 432.7,406.3 432.6,406.5 432.5,406.6 432.3,406.8 432.2,406.9 432.0,407.0 431.9,407.1 431.7,407.2 431.5,407.3 431.3,407.3 431.1,407.4 430.9,407.4 430.7,407.4 430.5,407.3 430.3,407.3 430.1,407.2 430.0,407.1 429.8,407.0 429.6,406.9 429.5,406.8 429.4,406.6 429.2,406.5 424.9,399.9 424.3,399.3"/>
</g>
<polygon fill="#eeee00" points="437.6,398.7 446.6,400.9 455.6,412.1 451.1,417.7 442.1,412.1"/>
<g filter="url(#bl2)">
<polygon fill="#cdad00" points="442.2,402.9 444.6,410.1 450.4,413.8 451.7,412.1 444.9,403.6 442.2,402.9"/>
</g>
<polygon fill="url(#pRD)" points="455.6,385.2 495.9,367.3 497.0,416.6 460.0,416.6"/>
<polygon fill="#eeee00" points="479.1,322.4 487.0,316.8 500.4,317.9 507.1,324.7 504.9,340.4 495.9,342.6 487.0,339.2 479.1,331.4"/>
<polygon fill="#8b1a1a" points="485.8,323.5 499.3,322.4 502.2,333.6 494.8,338.1 487.0,334.8"/>
<g filter="url(#bl4)">
<polygon fill="#eeee00" stroke="#eeee00" stroke-width="8" stroke-linejoin="round" points="374.8,422.2 433.1,422.2 435.4,470.4 424.2,472.6 415.2,465.9 406.2,457.0 397.3,454.7 399.5,443.5 406.2,436.8 397.3,432.3 386.1,434.5 377.1,430.0"/>
</g>
<polygon fill="#8b1a1a" points="374.8,422.2 433.1,422.2 435.4,470.4 424.2,472.6 415.2,465.9 406.2,457.0 397.3,454.7 399.5,443.5 406.2,436.8 397.3,432.3 386.1,434.5 377.1,430.0"/>
<polygon fill="#eeee00" points="404.0,427.8 428.7,425.6 430.9,439.0 415.2,445.7 406.2,439.0"/>
<g filter="url(#bl2)">
<polygon fill="#cdad00" points="407.6,430.5 409.0,437.3 415.6,442.3 427.6,437.2 426.2,428.8 407.6,430.5"/>
</g>
<g filter="url(#bl4)">
<polygon fill="#eeee00" stroke="#eeee00" stroke-width="9" stroke-linejoin="round" points="516.1,422.2 558.7,422.2 558.7,457.0 552.0,461.4 545.2,452.5 536.3,457.0 527.3,448.0 518.3,443.5 511.6,434.5"/>
</g>
<polygon fill="#8b1a1a" points="516.1,422.2 558.7,422.2 558.7,457.0 552.0,461.4 545.2,452.5 536.3,457.0 527.3,448.0 518.3,443.5 511.6,434.5"/>
<g filter="url(#bl8)">
<polygon fill="#eeee00" points="487.0,459.3 554.2,454.8 558.7,513.1 531.8,522.1 495.9,515.4 482.5,495.2"/>
</g>
<polygon fill="url(#pRD)" points="482.5,461.6 556.5,454.8 558.7,515.4 531.8,517.6 500.4,515.4 484.7,499.7"/>
<polygon fill="url(#pRD)" points="437.6,441.4 473.5,443.6 478.0,477.3 455.6,484.0 439.9,477.3"/>
<polygon fill="url(#pRD)" points="350.2,422.2 381.6,422.2 383.8,443.5 374.8,457.0 356.9,454.7 347.9,439.0"/>
<g filter="url(#bl4)">
<polygon fill="#8b008b" points="669.1,683.5 707.3,679.0 734.2,683.5 761.1,677.9 767.8,683.5 761.1,705.9 734.2,697.0 716.2,701.4 669.1,701.4"/>
</g>
<g filter="url(#bl2)">
<polygon fill="#ff00ff" points="725.2,694.7 729.7,688.0 734.2,697.0 738.7,710.4 734.2,714.9 729.7,705.9"/>
<polygon fill="#8b008b" points="383.6,456.8 384.5,470.1 387.7,482.6 391.5,487.2 396.3,485.6 396.6,485.6 396.9,485.5 397.2,485.5 397.4,485.5 397.7,485.5 398.0,485.6 398.3,485.7 398.5,485.8 398.8,485.9 399.0,486.1 399.3,486.2 399.5,486.4 399.6,486.6 399.8,486.9 399.9,487.1 403.2,493.6 403.7,493.4 401.3,485.4 394.9,476.8 394.7,476.6 394.6,476.3 394.5,476.1 394.4,475.8 394.3,475.5 392.2,462.7 387.2,455.2 383.6,456.8"/>
<polygon fill="#ff00ff" points="383.8,458.2 389.4,456.0 391.7,466.1 387.2,468.3"/>
</g>
<polygon fill="url(#pOR)" points="394.0,237.9 436.6,237.9 425.4,264.8 418.7,294.0 405.2,314.2 394.0,287.3"/>
<polygon fill="url(#pBL)" points="396.2,237.9 432.1,237.9 423.1,260.4 409.7,262.6 398.5,253.6"/>
<polygon fill="url(#pBL)" points="355.9,262.6 371.6,262.6 371.6,270.4 357.0,270.4"/>
</g>
</g>
<polygon fill="#5a9e10" points="1241.7,876.5 1251.1,873.9 1260.1,870.7 1262.3,874.3 1252.7,878.3 1243.0,880.6"/>
<polygon fill="#5a9e10" points="1263.7,867.1 1273.5,856.4 1277.1,858.6 1267.7,870.3"/>
<polygon fill="#5a9e10" points="1216.4,877.4 1218.6,877.4 1218.6,879.7 1216.4,879.7"/>
<polygon fill="#5a9e10" points="1232.1,878.8 1235.0,878.3 1235.0,880.6 1232.1,880.6"/>
<polygon fill="#cdad00" points="427.1,629.5 433.8,627.7 440.5,628.4 447.3,630.6 446.1,632.9 436.1,632.2 428.2,632.2"/>
<polygon fill="#006400" points="464.1,644.8 468.6,645.2 471.5,648.6 468.6,649.7 465.2,647.4"/>
<polygon fill="#006400" points="464.1,656.0 467.0,656.4 470.8,663.1 468.6,664.3 465.2,659.8"/>
<polygon fill="#006400" points="444.6,649.2 446.8,649.2 447.3,653.0 445.0,653.0"/>
<polygon fill="#006400" points="455.1,643.9 457.1,643.9 457.1,645.7 455.1,645.7"/>
<polygon fill="#8b1a1a" points="1082.7,263.0 1091.3,258.1 1100.7,255.0 1102.9,258.6 1094.6,264.8 1084.5,268.0"/>
<polygon fill="#8b1a1a" points="1048.7,287.3 1058.7,284.6 1059.9,287.3 1055.4,290.6 1049.8,290.0"/>
<polygon fill="#8b1a1a" points="1195.5,310.8 1204.5,310.8 1205.6,316.4 1197.8,316.9"/>
<polygon fill="#8b1a1a" points="1185.4,299.6 1192.2,299.6 1193.3,306.3 1187.7,305.2"/>
<polygon fill="#008b8b" points="914.2,803.5 916.5,794.5 920.9,786.7 927.7,781.1 929.9,782.9 923.2,788.9 918.7,796.8 916.9,805.7"/>
<polygon fill="#ffa54f" points="1090.8,734.8 1093.0,734.8 1092.4,741.6 1090.1,742.0"/>
<polygon fill="#00eeee" points="1083.0,750.5 1089.7,742.7 1090.8,743.8 1084.8,751.7"/>
<polygon class="b" style="stroke-width:3.1" points="377.2,235.4 957.8,235.4 957.8,225.6 966.8,225.6 970.2,240.2 979.1,243.5 990.4,248.0 1001.6,243.5 1012.8,248.0 1019.5,254.8 1028.5,255.9 1037.4,260.4 1048.7,254.8 1057.6,258.1 1068.8,259.2 1080.0,261.5 1071.1,264.8 1057.6,271.6 1046.4,279.4 1035.2,288.4 1026.2,294.0 1019.5,297.4 1030.7,292.9 1046.4,289.5 1049.8,298.5 1059.9,297.4 1066.6,294.0 1080.0,290.6 1093.5,283.9 1104.7,276.1 1115.9,276.1 1117.0,278.7 1107.0,285.0 1100.2,291.7 1111.4,290.6 1122.6,298.5 1133.9,300.7 1147.3,297.4 1160.8,295.1 1174.2,294.0 1175.3,301.8 1185.4,304.1 1192.2,309.7 1196.6,315.3 1185.4,316.4 1176.5,314.2 1165.2,313.0 1151.8,316.4 1140.6,318.7 1129.4,318.7 1122.6,327.6 1118.2,334.3 1111.4,347.8 1109.2,353.4 1115.9,345.6 1124.9,334.3 1136.1,322.7 1128.3,336.6 1121.5,347.8 1118.2,359.0 1115.9,372.5 1112.6,385.9 1113.7,399.4 1115.9,412.8 1117.0,416.9 1122.6,429.2 1133.9,425.9 1142.8,414.7 1148.4,396.7 1147.3,392.6 1142.8,379.2 1140.6,365.7 1145.1,352.3 1149.6,343.3 1158.5,336.6 1165.2,332.1 1172.0,325.4 1176.5,318.7 1178.7,318.2 1187.7,323.1 1198.9,327.6 1207.8,333.2 1210.1,340.0 1207.8,350.0 1205.6,359.0 1197.8,368.0 1196.6,374.7 1205.6,374.7 1212.3,368.0 1219.1,365.7 1222.4,366.9 1224.7,377.0 1226.9,392.6 1224.7,403.9 1217.9,407.9 1212.3,412.4 1210.1,421.4 1205.6,425.9 1216.8,432.6 1230.3,432.6 1243.7,428.1 1259.4,420.3 1272.9,414.7 1286.3,407.9 1300.0,400.1 1298.2,399.1 1303.8,395.7 1298.2,389.0 1298.2,384.5 1299.0,384.4 1314.7,383.3 1329.2,387.8 1343.8,384.4 1357.3,376.6 1356.1,367.6 1355.0,363.1 1366.2,354.2 1375.2,345.2 1384.2,340.3 1457.0,339.6 1457.0,334.0 1467.1,331.7 1473.9,327.3 1481.7,318.3 1482.8,304.8 1488.4,293.6 1498.5,282.4 1506.4,275.7 1510.9,280.2 1524.3,277.9 1535.5,284.7 1536.6,304.8 1537.8,325.0 1544.5,326.1 1545.6,336.2 1551.2,338.5 1553.5,344.1 1547.8,349.7 1541.1,353.0 1532.2,356.4 1523.2,358.7 1514.2,354.2 1510.9,362.0 1503.0,367.6 1494.0,372.1 1487.3,374.3 1480.6,383.3 1476.1,392.3 1475.0,400.1 1469.4,408.0 1469.4,414.7 1476.1,421.4 1478.3,428.2 1485.1,425.9 1490.7,421.4 1488.4,417.0 1484.6,417.0 1487.3,414.7 1491.8,417.0 1492.9,423.7 1489.6,429.3 1482.8,431.5 1476.1,432.6 1469.4,430.4 1464.9,433.8 1461.5,437.1 1455.9,438.3 1442.8,438.3 1427.1,439.4 1410.3,445.0 1411.4,447.3 1420.4,447.3 1436.1,445.0 1449.6,445.0 1436.1,450.6 1420.4,455.1 1410.3,454.0 1407.0,448.4 1402.5,456.2 1407.0,463.0 1404.7,476.4 1398.0,487.6 1389.0,498.8 1384.5,501.1 1383.4,514.5 1378.9,525.7 1372.2,537.0 1366.6,547.0 1364.3,553.8 1368.6,565.0 1372.0,576.2 1375.3,588.6 1374.2,596.4 1367.5,600.9 1359.6,607.6 1351.8,614.3 1347.3,613.2 1336.1,616.6 1327.1,623.3 1320.4,632.3 1309.2,634.5 1302.5,641.3 1295.7,650.2 1289.0,657.0 1280.0,663.7 1271.1,669.3 1261.0,674.9 1257.6,686.1 1255.4,700.0 1247.8,703.5 1248.9,719.1 1252.2,734.8 1257.8,752.8 1263.5,768.5 1269.1,786.4 1274.7,806.6 1278.0,824.5 1276.9,844.7 1274.7,855.9 1266.8,861.5 1257.8,863.8 1253.4,860.4 1248.9,849.2 1241.0,842.5 1236.5,829.0 1235.4,820.0 1228.7,815.6 1224.2,802.1 1219.7,790.9 1223.1,779.7 1222.0,766.2 1215.2,757.3 1206.3,747.2 1199.6,738.2 1192.8,733.7 1186.1,736.0 1174.9,740.4 1165.9,743.1 1159.2,731.5 1150.2,725.9 1139.0,723.6 1125.6,723.6 1120.0,723.6 1116.6,730.4 1113.2,729.2 1109.9,714.7 1106.5,728.1 1100.9,725.9 1089.7,725.9 1076.2,730.4 1069.5,736.0 1076.2,737.1 1083.0,732.6 1085.2,737.1 1078.5,743.8 1074.0,749.4 1076.2,755.0 1084.1,760.6 1088.6,757.3 1081.8,757.3 1076.2,750.5 1069.5,749.4 1067.3,755.0 1058.3,755.0 1049.3,759.5 1041.5,753.9 1033.6,743.8 1022.4,741.6 1011.2,746.1 1000.0,741.6 988.2,740.7 981.5,744.1 965.8,749.7 959.1,758.7 947.8,767.6 936.6,771.0 927.7,776.6 918.7,785.6 914.2,794.5 912.0,808.0 910.9,817.0 914.2,830.4 917.6,840.5 912.0,843.9 900.8,840.5 887.3,834.9 876.1,830.4 869.4,817.0 867.1,805.7 860.4,794.5 853.7,783.3 847.0,769.9 842.5,758.7 833.5,747.4 824.5,741.8 808.8,740.7 802.1,743.0 798.7,747.4 794.3,758.7 788.7,763.6 775.2,755.3 764.0,747.4 758.4,736.2 756.1,725.0 748.3,716.1 734.8,704.8 723.6,693.6 716.9,683.1 720.0,689.3 684.8,689.3 684.8,701.2 667.1,701.2 623.3,701.3 545.5,671.0 544.8,666.5 496.6,669.4 493.2,665.4 492.1,654.2 483.1,640.7 471.9,637.4 467.4,630.6 456.2,627.3 445.0,620.5 427.1,618.3 422.6,614.9 421.5,602.6 417.0,593.6 406.9,582.4 397.9,571.2 394.6,562.2 395.1,563.7 396.2,554.7 387.3,543.5 391.7,534.5 385.0,522.2 379.4,524.4 373.8,521.1 364.8,507.6 357.0,494.2 354.8,478.5 349.1,467.3 343.5,458.3 349.1,442.6 349.1,429.1 344.7,419.5 342.4,400.0 339.1,397.1 342.4,385.9 345.8,365.7 349.1,345.6 350.3,325.4 351.4,309.7 351.4,306.3 354.8,300.7 351.4,294.0 353.6,288.4 349.1,287.3 344.7,278.3 342.4,268.2 337.9,259.2 335.7,251.4 353.6,255.9 368.2,257.0 373.8,258.1 378.3,264.8 373.8,273.8 370.4,282.8 376.1,287.3 385.0,280.5 387.3,271.6 389.5,261.5 386.1,253.6 385.0,242.4 377.2,235.2"/>
<polyline class="b" points="351.4,306.3 368.2,308.6 373.8,311.9 376.1,322.0 387.3,325.4 409.7,322.0 432.1,317.5 454.5,314.2 477.0,312.8 498.3,312.8"/>
<polyline class="b" points="498.5,235.4 498.3,312.8 508.3,318.7 510.6,325.4 506.1,336.6 499.4,345.6 493.8,354.5 496.0,360.1 499.4,363.5 498.3,372.5 498.5,420.1"/>
<polyline class="b" points="519.1,235.2 519.1,259.2 522.9,268.2 530.8,277.2 539.7,287.3 548.7,295.1 555.4,297.4 555.4,308.6 550.9,318.7 552.1,325.4 557.7,327.6 563.3,323.1 567.8,329.9 573.4,341.1 580.1,350.0 585.7,355.7 598.0,354.1 611.5,352.3 618.2,347.8 623.8,354.5"/>
<polyline class="b" points="344.7,420.1 625.0,420.1"/>
<polyline class="b" points="436.0,420.1 436.0,499.1 549.5,603.0"/>
<polyline class="b" points="561.5,420.1 561.5,577.0 555.4,578.3 548.7,573.8 545.3,577.1 547.6,586.1 548.7,597.3 549.5,603.0 552.6,611.6 558.3,622.8 554.9,629.5 550.4,638.5 547.0,647.4 551.5,656.4 550.4,663.1 544.8,666.5 545.5,671.0"/>
<polyline class="b" points="561.5,551.8 970.9,551.8"/>
<polyline class="b" points="667.1,446.4 667.1,701.2"/>
<polyline class="b" points="625.0,446.4 625.0,341.0 772.4,341.0"/>
<polyline class="b" points="625.0,446.4 814.5,446.4"/>
<polyline class="b" points="772.4,235.4 772.4,446.4"/>
<polyline class="b" points="814.5,446.4 814.5,551.8"/>
<polyline class="b" points="772.4,316.2 928.0,316.2"/>
<polyline class="b" points="918.3,235.4 921.0,250.0 919.0,262.0 924.0,280.0 925.0,297.0 928.0,316.0 925.0,323.0 931.0,333.0 932.5,340.0 932.5,380.5 929.0,388.0 931.0,398.0 930.0,406.0"/>
<polyline class="b" points="932.5,380.5 1041.9,380.5"/>
<polyline class="b" points="772.4,393.7 886.7,393.7 897.0,400.0 913.0,398.0 927.0,403.0 930.0,406.0 936.7,423.3 941.7,440.0 946.7,453.3 950.0,463.0 958.0,473.0 961.0,476.0 965.7,486.0 971.0,494.5 971.0,565.0"/>
<polyline class="b" points="814.5,472.8 958.0,472.8"/>
<polyline class="b" points="947.5,457.5 1037.4,457.5"/>
<polyline class="b" points="971.0,564.0 1066.4,563.5 1067.5,568.0 1059.6,577.0 1072.0,577.0"/>
<polyline class="b" points="971.0,564.0 972.2,584.8 974.4,639.8 982.3,641.3 983.4,674.5 986.8,688.0 991.3,701.4 993.5,714.9 989.0,728.3 986.8,740.0 985.0,743.0"/>
<polyline class="b" points="983.3,657.2 1042.0,657.2"/>
<polyline class="b" points="794.5,551.8 794.5,565.0 857.6,565.0 857.6,616.2 865.7,619.6 872.4,621.8 879.1,625.2 888.1,627.4 897.1,630.8 903.8,634.2 911.7,633.0 917.3,637.5 926.2,634.2 935.2,636.4 944.2,633.0 952.0,630.8 959.9,631.9 966.6,636.4 972.2,639.8 974.4,639.8"/>
<polyline class="b" points="793.4,565.0 793.4,683.5 718.0,683.5"/>
<polyline class="b" points="1019.5,297.4 1019.5,309.7 1009.4,314.2 1006.1,323.1 1009.4,332.1 1008.3,343.3 1015.0,352.3 1026.2,359.0 1036.3,368.0 1041.9,374.7 1041.9,385.9 1041.9,390.0 1046.4,399.0 1055.4,405.7 1062.1,412.4 1065.5,419.1 1062.1,427.0 1053.1,432.6 1046.4,437.1 1047.5,446.1 1044.2,452.8 1038.6,457.3 1036.3,466.2 1038.6,477.4 1045.3,486.4 1052.0,497.6 1059.9,502.1 1064.3,508.8 1059.9,516.7 1064.3,524.5 1073.3,531.3 1078.9,538.0 1078.9,547.0 1084.5,551.4 1084.5,560.4 1077.8,563.8 1076.7,569.4 1072.2,578.3 1071.1,590.0 1070.9,584.8 1065.2,596.1 1060.8,605.0 1054.0,616.2 1047.3,627.4 1041.7,638.7 1043.9,649.9 1042.8,656.6 1047.3,667.8 1048.4,674.5 1042.8,681.3 1039.5,690.2 1033.9,701.4 1033.9,709.7 1074.0,709.9 1075.5,719.0 1073.0,728.0 1076.2,730.4"/>
<polyline class="b" points="1061.9,604.5 1209.4,604.5"/>
<polyline class="b" points="1209.4,603.6 1226.2,599.8 1253.1,599.8 1261.0,607.6 1284.5,608.7 1310.3,634.5"/>
<polyline class="b" points="1109.0,604.5 1102.0,726.0"/>
<polyline class="b" points="1160.5,605.0 1168.4,652.1 1175.1,672.3 1172.9,685.7 1171.7,697.0 1172.9,709.7 1171.5,708.6 1176.0,716.9 1233.2,723.6 1235.4,716.9 1238.8,714.7 1242.2,716.9 1247.8,715.8"/>
<polyline class="b" points="1121.1,723.6 1117.7,714.7 1118.8,708.6 1171.5,709.9"/>
<polyline class="b" points="1211.0,603.8 1208.7,609.4 1217.3,621.1 1226.2,634.5 1237.4,645.7 1246.4,657.0 1250.9,668.2 1255.4,677.1 1257.6,686.1"/>
<polyline class="b" points="1243.0,563.9 1238.6,569.5 1224.0,576.2 1215.0,583.0 1203.8,588.6 1193.7,593.0 1188.1,598.7 1187.0,603.6"/>
<polyline class="b" points="1078.0,565.0 1109.0,565.0 1109.0,562.3 1243.0,562.3 1243.0,563.7 1364.0,563.7"/>
<polyline class="b" points="1054.3,406.9 1115.0,406.9"/>
<polyline class="b" points="1120.4,427.0 1119.3,497.6 1115.9,508.8 1110.3,520.0 1107.0,530.1"/>
<polyline class="b" points="1084.5,555.9 1087.9,547.0 1098.0,550.3 1102.5,544.7 1105.8,538.0 1107.0,530.1 1113.7,526.8 1122.6,529.0 1129.4,530.1 1136.1,524.5 1142.8,526.8 1147.3,520.0 1154.0,522.3 1163.0,511.1 1168.6,505.5 1177.6,504.3 1178.7,497.6 1185.4,497.6 1194.4,504.3 1205.6,506.6 1216.8,505.5 1222.4,512.2 1224.7,515.6 1229.1,506.6 1234.8,498.7 1243.7,488.7 1253.8,484.2 1260.5,475.2 1263.9,461.7 1267.3,455.0"/>
<polyline class="b" points="1177.6,426.3 1177.6,503.2"/>
<polyline class="b" points="1140.6,425.9 1177.6,426.3 1205.6,425.9"/>
<polyline class="b" points="1267.0,417.0 1267.0,480.1 1367.7,480.1"/>
<polyline class="b" points="1283.6,414.8 1283.6,420.1 1375.6,420.1"/>
<polyline class="b" points="1375.6,419.2 1381.2,428.2 1386.8,436.1 1382.3,445.0 1380.0,455.1 1384.5,461.8 1391.3,467.4 1384.5,474.2 1375.6,478.7 1368.8,479.8 1374.4,483.1 1377.8,492.1 1384.5,501.1"/>
<polyline class="b" points="1386.8,437.2 1407.0,447.3"/>
<polyline class="b" points="1370.0,478.7 1367.7,483.1 1367.7,514.5 1383.4,514.5"/>
<polyline class="b" points="1288.1,478.7 1291.5,489.9 1298.2,485.4 1308.3,480.9 1317.3,487.6 1325.1,492.1 1328.5,488.7 1335.2,494.3 1341.9,501.1 1337.4,510.0 1335.2,516.8 1346.4,523.5 1355.4,537.0 1348.7,547.0"/>
<polyline class="b" points="1289.0,480.1 1289.0,494.0"/>
<polyline class="b" points="1325.1,492.1 1317.3,493.2 1306.1,503.3 1298.2,507.8 1290.4,512.3 1285.9,519.0 1279.1,528.0 1272.4,537.0 1263.5,541.4 1268.4,540.2 1257.2,542.5 1243.7,547.0 1235.9,540.2"/>
<polyline class="b" points="1224.7,515.6 1226.9,524.5 1232.5,533.5 1235.9,540.2 1228.0,547.0 1216.8,554.8 1205.6,561.5"/>
<polyline class="b" points="1417.8,340.3 1416.7,360.9 1418.9,378.8 1421.2,399.0 1419.3,399.1 1417.0,419.2 1412.6,445.0"/>
<polyline class="b" points="1457.0,339.6 1455.9,349.7 1447.0,358.7 1444.7,372.1 1440.2,381.1 1435.7,394.5 1434.6,399.5"/>
<polyline class="b" points="1468.3,331.7 1469.4,360.9 1471.6,385.6 1473.9,392.3 1476.1,395.7"/>
<polyline class="b" points="1421.2,399.5 1463.8,399.5 1471.6,395.7"/>
<polyline class="b" points="1417.0,419.2 1461.9,419.2 1463.0,430.4"/>
<polyline class="b" points="1452.9,419.2 1452.9,436.1"/>
<polyline class="b" points="1059.9,297.4 1064.3,303.0 1084.5,309.7 1102.5,315.3 1111.4,318.7 1115.9,327.6 1117.0,336.6"/>
<polyline class="b" style="stroke-width:10" points="378.7,242.4 381.0,248.0 380.1,253.6 383.9,259.2 382.3,266.0 380.1,272.7 378.7,278.7 376.1,283.9"/>
<polyline class="b" style="stroke-width:8" points="373.8,244.7 378.7,246.5 382.8,243.5"/>
<polyline class="b" style="stroke-width:7" points="376.1,264.8 378.7,271.6 374.9,278.7 373.4,283.9"/>
<polyline class="b" style="stroke-width:5" points="371.6,243.5 376.1,245.1"/>
<polyline class="b" style="stroke-width:5" points="383.9,244.7 385.0,253.6 387.3,262.6 386.1,271.6"/>
<polyline class="b" style="stroke-width:4" points="351.4,287.3 357.0,288.4"/>
<polyline class="b" style="stroke-width:6" points="386.1,522.9 388.4,528.9 391.3,535.7"/>
<polyline class="b" style="stroke-width:4" points="383.9,522.2 391.7,523.3"/>
<polyline class="b" style="stroke-width:7" points="1220.9,788.7 1225.3,792.0 1224.2,796.5"/>
<polyline class="b" style="stroke-width:5" points="1230.9,815.6 1234.3,820.0"/>
<polyline class="b" style="stroke-width:5" points="1254.5,861.5 1257.8,862.6"/>
<polyline class="b" style="stroke-width:5" points="962.4,744.1 966.9,741.8 964.7,748.6"/>
<polyline class="b" style="stroke-width:5" points="923.2,776.6 931.0,771.0 936.6,769.9"/>
<polyline class="b" style="stroke-width:4" points="905.2,803.5 910.9,801.3 908.6,809.1"/>
<polyline class="b" style="stroke-width:4" points="910.9,792.3 915.3,788.9"/>
<polyline class="b" style="stroke-width:4.5" points="1365.5,479.6 1362.4,485.1 1360.0,496.1 1360.0,507.1 1362.4,514.9 1364.0,525.9 1361.6,535.4 1362.4,547.9"/>
<polyline class="b" style="stroke-width:4.5" points="1349.8,492.2 1353.0,500.8 1353.8,511.8 1356.1,522.8 1357.7,533.8 1358.5,544.8 1362.4,551.1"/>
<polyline class="b" style="stroke-width:5" points="1355.3,493.0 1357.7,500.8 1356.9,510.2"/>
<polyline class="b" style="stroke-width:4" points="1340.4,513.4 1347.5,521.2 1353.8,529.1"/>
<polyline class="b" style="stroke-width:4" points="1342.0,525.9 1349.8,532.2 1356.9,538.5"/>
<polyline class="b" style="stroke-width:4" points="1345.1,538.5 1351.4,542.4 1357.7,546.3"/>
<polyline class="b" style="stroke-width:5" points="1342.0,545.6 1347.5,550.3 1353.0,554.2"/>
<polyline class="b" style="stroke-width:4" points="1335.7,510.2 1338.8,514.9 1345.1,522.8 1343.5,529.1 1349.8,533.8 1346.7,540.1"/>
<polyline class="b" style="stroke-width:3.5" points="1367.1,541.6 1371.8,533.8 1374.9,529.1 1378.9,527.5"/>
<polyline class="b" style="stroke-width:3.5" points="1362.4,514.9 1367.1,522.8 1371.8,525.9 1376.5,522.8"/>
<polyline class="b" style="stroke-width:5" points="1345.9,568.3 1351.4,573.0 1359.2,575.4 1365.5,577.7"/>
<polyline class="b" style="stroke-width:5" points="1351.4,576.2 1357.7,580.9 1359.2,585.6"/>
<polyline class="b" style="stroke-width:5" points="1340.4,591.9 1349.8,590.3 1359.2,591.9 1367.1,585.6 1371.8,584.0"/>
<polyline class="b" style="stroke-width:4" points="1360.8,579.3 1367.1,580.9 1367.1,585.6"/>
<polyline class="b" style="stroke-width:4" points="1351.8,609.9 1342.8,607.6 1333.9,612.1"/>
<polyline class="b" style="stroke-width:4" points="1365.2,598.7 1356.3,596.4 1349.6,600.9 1340.6,603.1"/>
<polyline class="b" style="stroke-width:6" points="1483.2,437.8 1485.9,438.7"/>
<polyline class="b" style="stroke-width:6" points="1488.1,438.7 1489.9,440.1"/>
<polyline class="b" style="stroke-width:3" points="1474.2,432.7 1478.7,434.9"/>
<polyline class="b" style="stroke-width:3" points="1411.4,449.5 1420.4,451.3 1436.1,447.3 1447.3,444.6"/>
<polyline class="b" style="stroke-width:3" points="1059.4,730.4 1065.0,727.0 1071.7,728.6 1067.3,733.7 1060.5,732.6 1059.4,730.4"/>
<polyline class="b" style="stroke-width:5" points="1160.8,338.8 1161.9,345.6"/>
<polyline class="b" style="stroke-width:3" points="1129.4,336.6 1124.9,344.4"/>
<polyline class="b" style="stroke-width:3" points="1370.0,480.9 1372.2,489.9 1377.8,498.8 1383.4,505.6 1383.9,514.5"/>
<text class="t1" x="946.4" y="57.3" text-anchor="middle">Asiatic rice borer: Number of generations w/ climate stress</text>
<text class="t1" x="946.4" y="96.6" text-anchor="middle">exclusions 12/26/2026</text>
<text class="t2" x="947.2" y="147.5" text-anchor="middle">Maps and modeling 01/09/2026 by Oregon State University IPPC USPEST.ORG and</text>
<text class="t2" x="947.4" y="180.8" text-anchor="middle">USDA-APHIS-PPQ; climate data from OSU PRISM Climate Group</text>
<text class="lt" x="1596" y="427">No. of</text>
<text class="lt" x="1596" y="455">generations</text>
<rect x="1596" y="469.0" width="26" height="25.6" fill="#4d4d4d"/>
<text class="li" x="1633.5" y="489.0">excl.-severe</text>
<rect x="1596" y="494.5" width="26" height="25.6" fill="#0028d8"/>
<text class="li" x="1633.5" y="514.5">0 gens.</text>
<rect x="1596" y="520.0" width="26" height="25.6" fill="#a52214"/>
<text class="li" x="1633.5" y="540.0">1 gens.</text>
<rect x="1596" y="545.5" width="26" height="25.6" fill="#d8c000"/>
<text class="li" x="1633.5" y="565.5">2 gens.</text>
<rect x="1596" y="571.0" width="26" height="25.6" fill="#258228"/>
<text class="li" x="1633.5" y="591.0">3 gens.</text>
<rect x="1596" y="596.5" width="26" height="25.6" fill="#a800a0"/>
<text class="li" x="1633.5" y="616.5">4 gens.</text>
<rect x="1596" y="622.0" width="26" height="25.6" fill="#d87414"/>
<text class="li" x="1633.5" y="642.0">5 gens.</text>
<rect x="1596" y="647.5" width="26" height="25.6" fill="#00a5a5"/>
<text class="li" x="1633.5" y="667.5">6 gens.</text>
<rect x="1596" y="673.0" width="26" height="25.6" fill="#5ca810"/>
<text class="li" x="1633.5" y="693.0">7 gens.</text>
</svg>
</body></html>
